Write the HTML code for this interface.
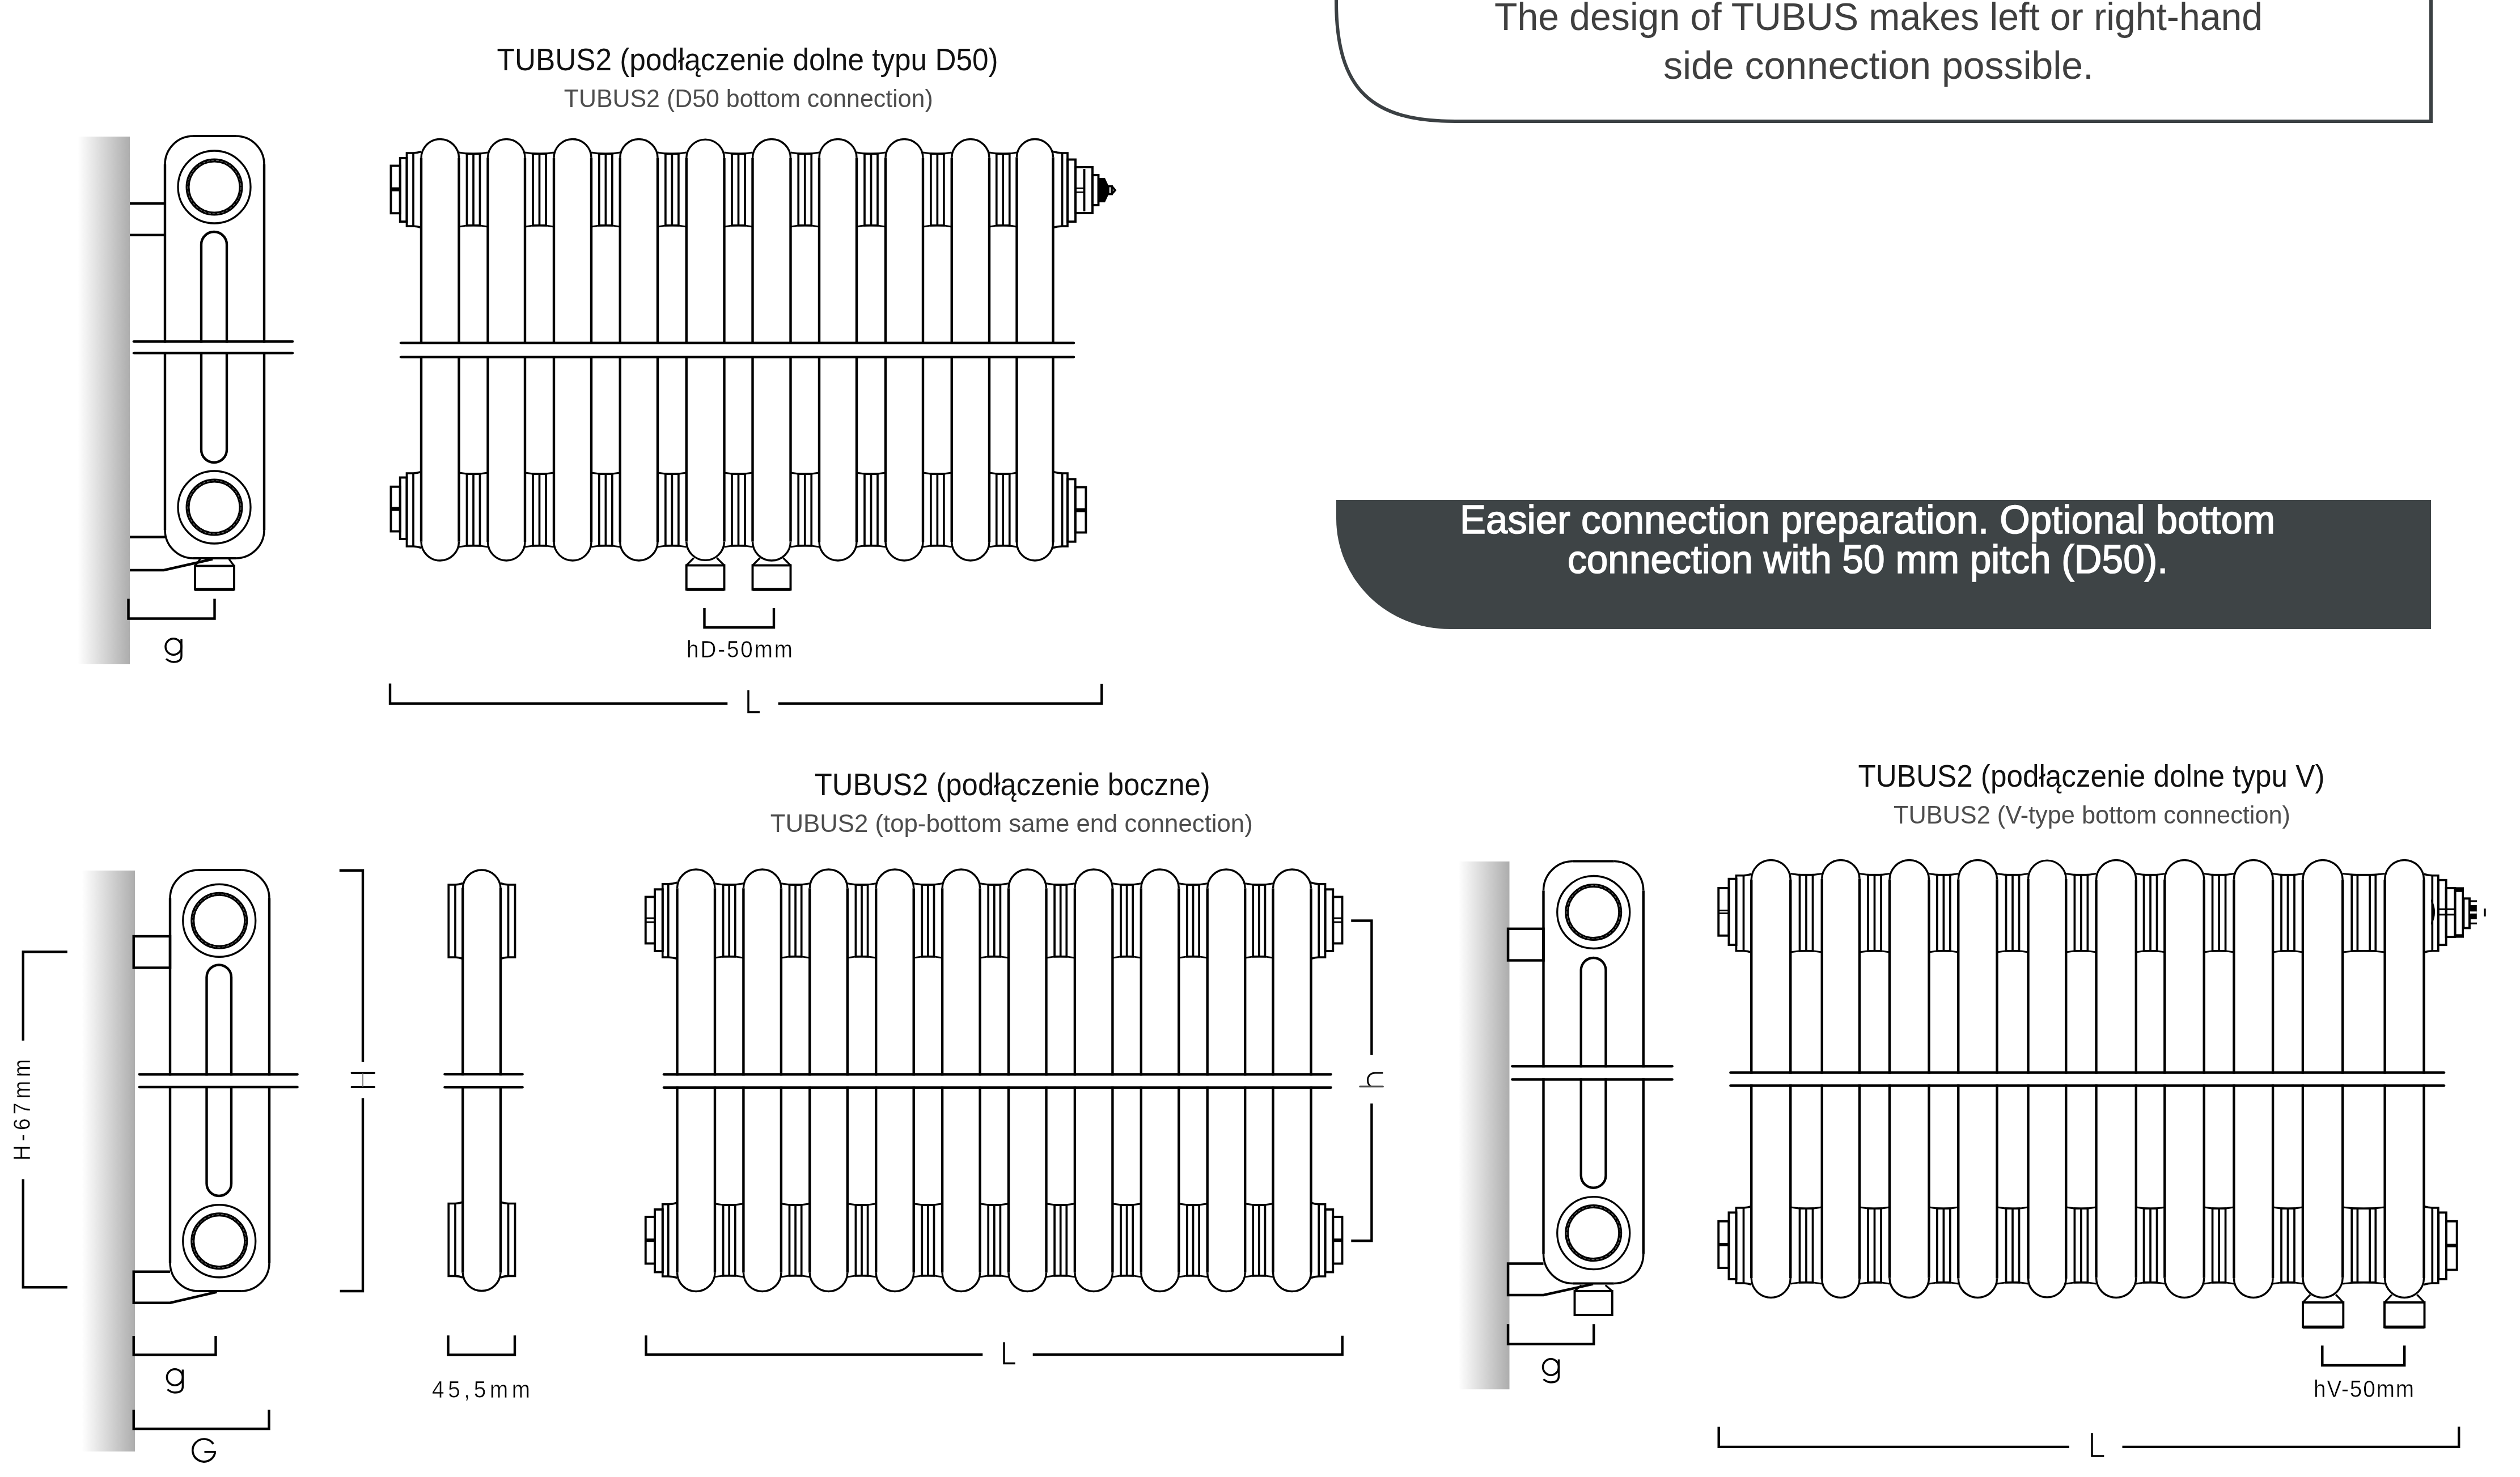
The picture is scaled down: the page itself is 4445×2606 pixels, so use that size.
<!DOCTYPE html>
<html><head><meta charset="utf-8"><title>TUBUS2</title><style>html,body{margin:0;padding:0;background:#fff;width:4445px;height:2606px;overflow:hidden}text{font-family:"Liberation Sans",sans-serif}</style></head><body>
<svg xmlns="http://www.w3.org/2000/svg" width="4445" height="2606" viewBox="0 0 4445 2606" style="display:block;filter:blur(0.6px)">
<defs><linearGradient id="wg" x1="0" y1="0" x2="1" y2="0"><stop offset="0" stop-color="#ffffff"/><stop offset="1" stop-color="#adadad"/></linearGradient></defs>
<rect x="0" y="0" width="4445" height="2606" fill="#fff"/>
<g font-family="Liberation Sans, sans-serif">
<path d="M2357 -20 L2357 2 C2357 160 2420 214 2567 214 L4288 214 L4288 -20" fill="none" stroke="#3b4043" stroke-width="6" stroke-linejoin="miter" stroke-linecap="butt"/>
<text x="2636" y="53" font-size="68" fill="#3f3f3f" text-anchor="start" textLength="1355" lengthAdjust="spacingAndGlyphs">The design of TUBUS makes left or right-hand</text>
<text x="2934" y="139" font-size="68" fill="#3f3f3f" text-anchor="start" textLength="759" lengthAdjust="spacingAndGlyphs">side connection possible.</text>
<path d="M2357 882 L4288 882 L4288 1110 L2557 1110 A200 195 0 0 1 2357 915 Z" fill="#3e4446"/>
<text x="2575" y="940.5" font-size="71" fill="#fff" text-anchor="start" textLength="1438" lengthAdjust="spacingAndGlyphs" stroke="#fff" stroke-width="1.6">Easier connection preparation. Optional bottom</text>
<text x="2765" y="1011" font-size="71" fill="#fff" text-anchor="start" textLength="1059" lengthAdjust="spacingAndGlyphs" stroke="#fff" stroke-width="1.6">connection with 50 mm pitch (D50).</text>
<text x="876.6" y="123.5" font-size="54.8" fill="#111" text-anchor="start" textLength="884" lengthAdjust="spacingAndGlyphs">TUBUS2 (podłączenie dolne typu D50)</text>
<text x="994.7" y="189" font-size="43.6" fill="#4d4d4d" text-anchor="start" textLength="651" lengthAdjust="spacingAndGlyphs">TUBUS2 (D50 bottom connection)</text>
<text x="1436.7" y="1402.7" font-size="54.8" fill="#111" text-anchor="start" textLength="698" lengthAdjust="spacingAndGlyphs">TUBUS2 (podłączenie boczne)</text>
<text x="1358.75" y="1468.3" font-size="43.6" fill="#4d4d4d" text-anchor="start" textLength="851" lengthAdjust="spacingAndGlyphs">TUBUS2 (top-bottom same end connection)</text>
<text x="3277.5" y="1388" font-size="54.8" fill="#111" text-anchor="start" textLength="823" lengthAdjust="spacingAndGlyphs">TUBUS2 (podłączenie dolne typu V)</text>
<text x="3340" y="1453" font-size="43.6" fill="#4d4d4d" text-anchor="start" textLength="700" lengthAdjust="spacingAndGlyphs">TUBUS2 (V-type bottom connection)</text>
<rect x="137" y="241" width="92" height="931" fill="url(#wg)"/>
<line x1="229" y1="359" x2="291" y2="359" stroke="#000" stroke-width="4.4" stroke-linecap="butt"/>
<line x1="229" y1="414.6" x2="291" y2="414.6" stroke="#000" stroke-width="4.4" stroke-linecap="butt"/>
<line x1="229" y1="947.5" x2="291" y2="947.5" stroke="#000" stroke-width="4.4" stroke-linecap="butt"/>
<path d="M229 1006 L289 1006 L375 986.5" fill="none" stroke="#000" stroke-width="4.4" stroke-linejoin="miter" stroke-linecap="butt"/>
<line x1="341" y1="240" x2="416" y2="240" stroke="#000" stroke-width="4.1" stroke-linecap="butt"/>
<line x1="341" y1="985" x2="416" y2="985" stroke="#000" stroke-width="4.1" stroke-linecap="butt"/>
<line x1="291" y1="290" x2="291" y2="935" stroke="#000" stroke-width="4.4" stroke-linecap="butt"/>
<line x1="466" y1="290" x2="466" y2="935" stroke="#000" stroke-width="4.4" stroke-linecap="butt"/>
<path d="M416 240 A50 50 0 0 1 466 290" fill="none" stroke="#000" stroke-width="3.5" stroke-linejoin="miter" stroke-linecap="butt"/>
<path d="M466 935 A50 50 0 0 1 416 985" fill="none" stroke="#000" stroke-width="3.5" stroke-linejoin="miter" stroke-linecap="butt"/>
<path d="M341 985 A50 50 0 0 1 291 935" fill="none" stroke="#000" stroke-width="3.5" stroke-linejoin="miter" stroke-linecap="butt"/>
<path d="M291 290 A50 50 0 0 1 341 240" fill="none" stroke="#000" stroke-width="3.5" stroke-linejoin="miter" stroke-linecap="butt"/>
<circle cx="378" cy="330" r="64" fill="none" stroke="#000" stroke-width="3.3"/>
<circle cx="378" cy="330" r="47" fill="none" stroke="#000" stroke-width="7"/>
<circle cx="378" cy="330" r="47" fill="none" stroke="#777" stroke-width="1.1" stroke-dasharray="5 3"/>
<circle cx="378" cy="895" r="64" fill="none" stroke="#000" stroke-width="3.3"/>
<circle cx="378" cy="895" r="47" fill="none" stroke="#000" stroke-width="7"/>
<circle cx="378" cy="895" r="47" fill="none" stroke="#777" stroke-width="1.1" stroke-dasharray="5 3"/>
<path d="M355 431.5 A22.5 22.5 0 0 1 400 431.5 L400 793.5 A22.5 22.5 0 0 1 355 793.5 Z" fill="none" stroke="#000" stroke-width="4.4" stroke-linejoin="miter" stroke-linecap="butt"/>
<rect x="236" y="604.5" width="280" height="16.5" fill="#fff"/>
<line x1="236" y1="602.5" x2="516" y2="602.5" stroke="#000" stroke-width="4.6" stroke-linecap="round"/>
<line x1="236" y1="623" x2="516" y2="623" stroke="#000" stroke-width="4.6" stroke-linecap="round"/>
<path d="M344 998.5 L353 986.5" fill="none" stroke="#000" stroke-width="3.2" stroke-linejoin="miter" stroke-linecap="butt"/>
<path d="M404 986.5 L413 998.5" fill="none" stroke="#000" stroke-width="3.2" stroke-linejoin="miter" stroke-linecap="butt"/>
<rect x="344" y="998.5" width="69" height="41.5" fill="none" stroke="#000" stroke-width="3.9"/>
<line x1="344" y1="1040" x2="413" y2="1040" stroke="#000" stroke-width="5.5" stroke-linecap="butt"/>
<path d="M226.5 1056.5 L226.5 1091.5 L378.5 1091.5 L378.5 1056.5" fill="none" stroke="#000" stroke-width="4.4" stroke-linejoin="miter" stroke-linecap="butt"/>
<ellipse cx="306" cy="1141" rx="14" ry="14.2" fill="none" stroke="#000" stroke-width="3.5"/>
<path d="M320 1127.5 L320 1157 C320 1165 314 1168 306 1168 C300 1168 296 1165 293 1162.5" fill="none" stroke="#000" stroke-width="3.5" stroke-linejoin="miter" stroke-linecap="butt"/>
<path d="M809.5 269 Q835 274 860.5 269" fill="none" stroke="#000" stroke-width="2.9" stroke-linejoin="miter" stroke-linecap="butt"/>
<path d="M809.5 400 Q835 395 860.5 400" fill="none" stroke="#000" stroke-width="2.9" stroke-linejoin="miter" stroke-linecap="butt"/>
<rect x="823.5" y="271.2" width="23" height="126.6" fill="none" stroke="#000" stroke-width="3.7"/>
<line x1="835" y1="271.2" x2="835" y2="397.8" stroke="#000" stroke-width="3.7" stroke-linecap="butt"/>
<path d="M809.5 834 Q835 839 860.5 834" fill="none" stroke="#000" stroke-width="2.9" stroke-linejoin="miter" stroke-linecap="butt"/>
<path d="M809.5 965 Q835 960 860.5 965" fill="none" stroke="#000" stroke-width="2.9" stroke-linejoin="miter" stroke-linecap="butt"/>
<rect x="823.5" y="836.2" width="23" height="126.6" fill="none" stroke="#000" stroke-width="3.7"/>
<line x1="835" y1="836.2" x2="835" y2="962.8" stroke="#000" stroke-width="3.7" stroke-linecap="butt"/>
<path d="M926 269 Q951.5 274 977 269" fill="none" stroke="#000" stroke-width="2.9" stroke-linejoin="miter" stroke-linecap="butt"/>
<path d="M926 400 Q951.5 395 977 400" fill="none" stroke="#000" stroke-width="2.9" stroke-linejoin="miter" stroke-linecap="butt"/>
<rect x="940" y="271.2" width="23" height="126.6" fill="none" stroke="#000" stroke-width="3.7"/>
<line x1="951.5" y1="271.2" x2="951.5" y2="397.8" stroke="#000" stroke-width="3.7" stroke-linecap="butt"/>
<path d="M926 834 Q951.5 839 977 834" fill="none" stroke="#000" stroke-width="2.9" stroke-linejoin="miter" stroke-linecap="butt"/>
<path d="M926 965 Q951.5 960 977 965" fill="none" stroke="#000" stroke-width="2.9" stroke-linejoin="miter" stroke-linecap="butt"/>
<rect x="940" y="836.2" width="23" height="126.6" fill="none" stroke="#000" stroke-width="3.7"/>
<line x1="951.5" y1="836.2" x2="951.5" y2="962.8" stroke="#000" stroke-width="3.7" stroke-linecap="butt"/>
<path d="M1043 269 Q1068.38 274 1093.75 269" fill="none" stroke="#000" stroke-width="2.9" stroke-linejoin="miter" stroke-linecap="butt"/>
<path d="M1043 400 Q1068.38 395 1093.75 400" fill="none" stroke="#000" stroke-width="2.9" stroke-linejoin="miter" stroke-linecap="butt"/>
<rect x="1056.88" y="271.2" width="23" height="126.6" fill="none" stroke="#000" stroke-width="3.7"/>
<line x1="1068.38" y1="271.2" x2="1068.38" y2="397.8" stroke="#000" stroke-width="3.7" stroke-linecap="butt"/>
<path d="M1043 834 Q1068.38 839 1093.75 834" fill="none" stroke="#000" stroke-width="2.9" stroke-linejoin="miter" stroke-linecap="butt"/>
<path d="M1043 965 Q1068.38 960 1093.75 965" fill="none" stroke="#000" stroke-width="2.9" stroke-linejoin="miter" stroke-linecap="butt"/>
<rect x="1056.88" y="836.2" width="23" height="126.6" fill="none" stroke="#000" stroke-width="3.7"/>
<line x1="1068.38" y1="836.2" x2="1068.38" y2="962.8" stroke="#000" stroke-width="3.7" stroke-linecap="butt"/>
<path d="M1160 269 Q1185.38 274 1210.75 269" fill="none" stroke="#000" stroke-width="2.9" stroke-linejoin="miter" stroke-linecap="butt"/>
<path d="M1160 400 Q1185.38 395 1210.75 400" fill="none" stroke="#000" stroke-width="2.9" stroke-linejoin="miter" stroke-linecap="butt"/>
<rect x="1173.88" y="271.2" width="23" height="126.6" fill="none" stroke="#000" stroke-width="3.7"/>
<line x1="1185.38" y1="271.2" x2="1185.38" y2="397.8" stroke="#000" stroke-width="3.7" stroke-linecap="butt"/>
<path d="M1160 834 Q1185.38 839 1210.75 834" fill="none" stroke="#000" stroke-width="2.9" stroke-linejoin="miter" stroke-linecap="butt"/>
<path d="M1160 965 Q1185.38 960 1210.75 965" fill="none" stroke="#000" stroke-width="2.9" stroke-linejoin="miter" stroke-linecap="butt"/>
<rect x="1173.88" y="836.2" width="23" height="126.6" fill="none" stroke="#000" stroke-width="3.7"/>
<line x1="1185.38" y1="836.2" x2="1185.38" y2="962.8" stroke="#000" stroke-width="3.7" stroke-linecap="butt"/>
<path d="M1277.5 269 Q1302.5 274 1327.5 269" fill="none" stroke="#000" stroke-width="2.9" stroke-linejoin="miter" stroke-linecap="butt"/>
<path d="M1277.5 400 Q1302.5 395 1327.5 400" fill="none" stroke="#000" stroke-width="2.9" stroke-linejoin="miter" stroke-linecap="butt"/>
<rect x="1291" y="271.2" width="23" height="126.6" fill="none" stroke="#000" stroke-width="3.7"/>
<line x1="1302.5" y1="271.2" x2="1302.5" y2="397.8" stroke="#000" stroke-width="3.7" stroke-linecap="butt"/>
<path d="M1277.5 834 Q1302.5 839 1327.5 834" fill="none" stroke="#000" stroke-width="2.9" stroke-linejoin="miter" stroke-linecap="butt"/>
<path d="M1277.5 965 Q1302.5 960 1327.5 965" fill="none" stroke="#000" stroke-width="2.9" stroke-linejoin="miter" stroke-linecap="butt"/>
<rect x="1291" y="836.2" width="23" height="126.6" fill="none" stroke="#000" stroke-width="3.7"/>
<line x1="1302.5" y1="836.2" x2="1302.5" y2="962.8" stroke="#000" stroke-width="3.7" stroke-linecap="butt"/>
<path d="M1394.5 269 Q1419.75 274 1445 269" fill="none" stroke="#000" stroke-width="2.9" stroke-linejoin="miter" stroke-linecap="butt"/>
<path d="M1394.5 400 Q1419.75 395 1445 400" fill="none" stroke="#000" stroke-width="2.9" stroke-linejoin="miter" stroke-linecap="butt"/>
<rect x="1408.25" y="271.2" width="23" height="126.6" fill="none" stroke="#000" stroke-width="3.7"/>
<line x1="1419.75" y1="271.2" x2="1419.75" y2="397.8" stroke="#000" stroke-width="3.7" stroke-linecap="butt"/>
<path d="M1394.5 834 Q1419.75 839 1445 834" fill="none" stroke="#000" stroke-width="2.9" stroke-linejoin="miter" stroke-linecap="butt"/>
<path d="M1394.5 965 Q1419.75 960 1445 965" fill="none" stroke="#000" stroke-width="2.9" stroke-linejoin="miter" stroke-linecap="butt"/>
<rect x="1408.25" y="836.2" width="23" height="126.6" fill="none" stroke="#000" stroke-width="3.7"/>
<line x1="1419.75" y1="836.2" x2="1419.75" y2="962.8" stroke="#000" stroke-width="3.7" stroke-linecap="butt"/>
<path d="M1511 269 Q1536.5 274 1562 269" fill="none" stroke="#000" stroke-width="2.9" stroke-linejoin="miter" stroke-linecap="butt"/>
<path d="M1511 400 Q1536.5 395 1562 400" fill="none" stroke="#000" stroke-width="2.9" stroke-linejoin="miter" stroke-linecap="butt"/>
<rect x="1525" y="271.2" width="23" height="126.6" fill="none" stroke="#000" stroke-width="3.7"/>
<line x1="1536.5" y1="271.2" x2="1536.5" y2="397.8" stroke="#000" stroke-width="3.7" stroke-linecap="butt"/>
<path d="M1511 834 Q1536.5 839 1562 834" fill="none" stroke="#000" stroke-width="2.9" stroke-linejoin="miter" stroke-linecap="butt"/>
<path d="M1511 965 Q1536.5 960 1562 965" fill="none" stroke="#000" stroke-width="2.9" stroke-linejoin="miter" stroke-linecap="butt"/>
<rect x="1525" y="836.2" width="23" height="126.6" fill="none" stroke="#000" stroke-width="3.7"/>
<line x1="1536.5" y1="836.2" x2="1536.5" y2="962.8" stroke="#000" stroke-width="3.7" stroke-linecap="butt"/>
<path d="M1628 269 Q1653.38 274 1678.75 269" fill="none" stroke="#000" stroke-width="2.9" stroke-linejoin="miter" stroke-linecap="butt"/>
<path d="M1628 400 Q1653.38 395 1678.75 400" fill="none" stroke="#000" stroke-width="2.9" stroke-linejoin="miter" stroke-linecap="butt"/>
<rect x="1641.88" y="271.2" width="23" height="126.6" fill="none" stroke="#000" stroke-width="3.7"/>
<line x1="1653.38" y1="271.2" x2="1653.38" y2="397.8" stroke="#000" stroke-width="3.7" stroke-linecap="butt"/>
<path d="M1628 834 Q1653.38 839 1678.75 834" fill="none" stroke="#000" stroke-width="2.9" stroke-linejoin="miter" stroke-linecap="butt"/>
<path d="M1628 965 Q1653.38 960 1678.75 965" fill="none" stroke="#000" stroke-width="2.9" stroke-linejoin="miter" stroke-linecap="butt"/>
<rect x="1641.88" y="836.2" width="23" height="126.6" fill="none" stroke="#000" stroke-width="3.7"/>
<line x1="1653.38" y1="836.2" x2="1653.38" y2="962.8" stroke="#000" stroke-width="3.7" stroke-linecap="butt"/>
<path d="M1745 269 Q1769.25 274 1793.5 269" fill="none" stroke="#000" stroke-width="2.9" stroke-linejoin="miter" stroke-linecap="butt"/>
<path d="M1745 400 Q1769.25 395 1793.5 400" fill="none" stroke="#000" stroke-width="2.9" stroke-linejoin="miter" stroke-linecap="butt"/>
<rect x="1757.75" y="271.2" width="23" height="126.6" fill="none" stroke="#000" stroke-width="3.7"/>
<line x1="1769.25" y1="271.2" x2="1769.25" y2="397.8" stroke="#000" stroke-width="3.7" stroke-linecap="butt"/>
<path d="M1745 834 Q1769.25 839 1793.5 834" fill="none" stroke="#000" stroke-width="2.9" stroke-linejoin="miter" stroke-linecap="butt"/>
<path d="M1745 965 Q1769.25 960 1793.5 965" fill="none" stroke="#000" stroke-width="2.9" stroke-linejoin="miter" stroke-linecap="butt"/>
<rect x="1757.75" y="836.2" width="23" height="126.6" fill="none" stroke="#000" stroke-width="3.7"/>
<line x1="1769.25" y1="836.2" x2="1769.25" y2="962.8" stroke="#000" stroke-width="3.7" stroke-linecap="butt"/>
<path d="M743 278.75 A33.25 33.25 0 0 1 809.5 278.75" fill="none" stroke="#000" stroke-width="3.4" stroke-linejoin="miter" stroke-linecap="butt"/>
<path d="M809.5 955.75 A33.25 33.25 0 0 1 743 955.75" fill="none" stroke="#000" stroke-width="3.4" stroke-linejoin="miter" stroke-linecap="butt"/>
<line x1="743" y1="278.75" x2="743" y2="955.75" stroke="#000" stroke-width="4.4" stroke-linecap="butt"/>
<line x1="809.5" y1="278.75" x2="809.5" y2="955.75" stroke="#000" stroke-width="4.4" stroke-linecap="butt"/>
<path d="M860.5 278.25 A32.75 32.75 0 0 1 926 278.25" fill="none" stroke="#000" stroke-width="3.4" stroke-linejoin="miter" stroke-linecap="butt"/>
<path d="M926 956.25 A32.75 32.75 0 0 1 860.5 956.25" fill="none" stroke="#000" stroke-width="3.4" stroke-linejoin="miter" stroke-linecap="butt"/>
<line x1="860.5" y1="278.25" x2="860.5" y2="956.25" stroke="#000" stroke-width="4.4" stroke-linecap="butt"/>
<line x1="926" y1="278.25" x2="926" y2="956.25" stroke="#000" stroke-width="4.4" stroke-linecap="butt"/>
<path d="M977 278.5 A33 33 0 0 1 1043 278.5" fill="none" stroke="#000" stroke-width="3.4" stroke-linejoin="miter" stroke-linecap="butt"/>
<path d="M1043 956 A33 33 0 0 1 977 956" fill="none" stroke="#000" stroke-width="3.4" stroke-linejoin="miter" stroke-linecap="butt"/>
<line x1="977" y1="278.5" x2="977" y2="956" stroke="#000" stroke-width="4.4" stroke-linecap="butt"/>
<line x1="1043" y1="278.5" x2="1043" y2="956" stroke="#000" stroke-width="4.4" stroke-linecap="butt"/>
<path d="M1093.75 278.62 A33.12 33.12 0 0 1 1160 278.62" fill="none" stroke="#000" stroke-width="3.4" stroke-linejoin="miter" stroke-linecap="butt"/>
<path d="M1160 955.88 A33.12 33.12 0 0 1 1093.75 955.88" fill="none" stroke="#000" stroke-width="3.4" stroke-linejoin="miter" stroke-linecap="butt"/>
<line x1="1093.75" y1="278.62" x2="1093.75" y2="955.88" stroke="#000" stroke-width="4.4" stroke-linecap="butt"/>
<line x1="1160" y1="278.62" x2="1160" y2="955.88" stroke="#000" stroke-width="4.4" stroke-linecap="butt"/>
<path d="M1210.75 278.88 A33.38 33.38 0 0 1 1277.5 278.88" fill="none" stroke="#000" stroke-width="3.4" stroke-linejoin="miter" stroke-linecap="butt"/>
<path d="M1277.5 955.62 A33.38 33.38 0 0 1 1210.75 955.62" fill="none" stroke="#000" stroke-width="3.4" stroke-linejoin="miter" stroke-linecap="butt"/>
<line x1="1210.75" y1="278.88" x2="1210.75" y2="955.62" stroke="#000" stroke-width="4.4" stroke-linecap="butt"/>
<line x1="1277.5" y1="278.88" x2="1277.5" y2="955.62" stroke="#000" stroke-width="4.4" stroke-linecap="butt"/>
<path d="M1327.5 279 A33.5 33.5 0 0 1 1394.5 279" fill="none" stroke="#000" stroke-width="3.4" stroke-linejoin="miter" stroke-linecap="butt"/>
<path d="M1394.5 955.5 A33.5 33.5 0 0 1 1327.5 955.5" fill="none" stroke="#000" stroke-width="3.4" stroke-linejoin="miter" stroke-linecap="butt"/>
<line x1="1327.5" y1="279" x2="1327.5" y2="955.5" stroke="#000" stroke-width="4.4" stroke-linecap="butt"/>
<line x1="1394.5" y1="279" x2="1394.5" y2="955.5" stroke="#000" stroke-width="4.4" stroke-linecap="butt"/>
<path d="M1445 278.5 A33 33 0 0 1 1511 278.5" fill="none" stroke="#000" stroke-width="3.4" stroke-linejoin="miter" stroke-linecap="butt"/>
<path d="M1511 956 A33 33 0 0 1 1445 956" fill="none" stroke="#000" stroke-width="3.4" stroke-linejoin="miter" stroke-linecap="butt"/>
<line x1="1445" y1="278.5" x2="1445" y2="956" stroke="#000" stroke-width="4.4" stroke-linecap="butt"/>
<line x1="1511" y1="278.5" x2="1511" y2="956" stroke="#000" stroke-width="4.4" stroke-linecap="butt"/>
<path d="M1562 278.5 A33 33 0 0 1 1628 278.5" fill="none" stroke="#000" stroke-width="3.4" stroke-linejoin="miter" stroke-linecap="butt"/>
<path d="M1628 956 A33 33 0 0 1 1562 956" fill="none" stroke="#000" stroke-width="3.4" stroke-linejoin="miter" stroke-linecap="butt"/>
<line x1="1562" y1="278.5" x2="1562" y2="956" stroke="#000" stroke-width="4.4" stroke-linecap="butt"/>
<line x1="1628" y1="278.5" x2="1628" y2="956" stroke="#000" stroke-width="4.4" stroke-linecap="butt"/>
<path d="M1678.75 278.62 A33.12 33.12 0 0 1 1745 278.62" fill="none" stroke="#000" stroke-width="3.4" stroke-linejoin="miter" stroke-linecap="butt"/>
<path d="M1745 955.88 A33.12 33.12 0 0 1 1678.75 955.88" fill="none" stroke="#000" stroke-width="3.4" stroke-linejoin="miter" stroke-linecap="butt"/>
<line x1="1678.75" y1="278.62" x2="1678.75" y2="955.88" stroke="#000" stroke-width="4.4" stroke-linecap="butt"/>
<line x1="1745" y1="278.62" x2="1745" y2="955.88" stroke="#000" stroke-width="4.4" stroke-linecap="butt"/>
<path d="M1793.5 277.5 A32 32 0 0 1 1857.5 277.5" fill="none" stroke="#000" stroke-width="3.4" stroke-linejoin="miter" stroke-linecap="butt"/>
<path d="M1857.5 957 A32 32 0 0 1 1793.5 957" fill="none" stroke="#000" stroke-width="3.4" stroke-linejoin="miter" stroke-linecap="butt"/>
<line x1="1793.5" y1="277.5" x2="1793.5" y2="957" stroke="#000" stroke-width="4.4" stroke-linecap="butt"/>
<line x1="1857.5" y1="277.5" x2="1857.5" y2="957" stroke="#000" stroke-width="4.4" stroke-linecap="butt"/>
<rect x="707" y="607" width="1187" height="21" fill="#fff"/>
<line x1="707" y1="605" x2="1894" y2="605" stroke="#000" stroke-width="4.6" stroke-linecap="round"/>
<line x1="707" y1="630" x2="1894" y2="630" stroke="#000" stroke-width="4.6" stroke-linecap="round"/>
<path d="M743 267.5 Q736 269.8 729 270 L717.5 270 L717.5 399 L729 399 Q736 399.2 743 401.5" fill="none" stroke="#000" stroke-width="3.7" stroke-linejoin="miter" stroke-linecap="butt"/>
<line x1="729" y1="270" x2="729" y2="399" stroke="#000" stroke-width="3.7" stroke-linecap="butt"/>
<rect x="705.75" y="279" width="11.75" height="112" fill="none" stroke="#000" stroke-width="3.9"/>
<rect x="689.5" y="292.5" width="16.25" height="83.75" fill="none" stroke="#000" stroke-width="3.9"/>
<line x1="689.5" y1="334" x2="705.75" y2="334" stroke="#000" stroke-width="7" stroke-linecap="butt"/>
<path d="M743 832.5 Q736 834.8 729 835 L717.5 835 L717.5 964 L729 964 Q736 964.2 743 966.5" fill="none" stroke="#000" stroke-width="3.7" stroke-linejoin="miter" stroke-linecap="butt"/>
<line x1="729" y1="835" x2="729" y2="964" stroke="#000" stroke-width="3.7" stroke-linecap="butt"/>
<rect x="705.75" y="842.5" width="11.75" height="108.5" fill="none" stroke="#000" stroke-width="3.9"/>
<rect x="689.5" y="858.75" width="16.25" height="78.75" fill="none" stroke="#000" stroke-width="3.9"/>
<line x1="689.5" y1="898" x2="705.75" y2="898" stroke="#000" stroke-width="7" stroke-linecap="butt"/>
<path d="M1857.5 267.5 Q1865.55 269.8 1873.6 270 L1883 270 L1883 399 L1873.6 399 Q1865.55 399.2 1857.5 401.5" fill="none" stroke="#000" stroke-width="3.7" stroke-linejoin="miter" stroke-linecap="butt"/>
<line x1="1873.6" y1="270" x2="1873.6" y2="399" stroke="#000" stroke-width="3.7" stroke-linecap="butt"/>
<path d="M1857.5 832.5 Q1865.55 834.8 1873.6 835 L1883 835 L1883 964 L1873.6 964 Q1865.55 964.2 1857.5 966.5" fill="none" stroke="#000" stroke-width="3.7" stroke-linejoin="miter" stroke-linecap="butt"/>
<line x1="1873.6" y1="835" x2="1873.6" y2="964" stroke="#000" stroke-width="3.7" stroke-linecap="butt"/>
<rect x="1883" y="281.5" width="14" height="109.5" fill="none" stroke="#000" stroke-width="3.9"/>
<rect x="1897" y="295" width="30" height="81" fill="none" stroke="#000" stroke-width="3.9"/>
<line x1="1912.5" y1="298" x2="1912.5" y2="373" stroke="#000" stroke-width="3.9" stroke-linecap="butt"/>
<line x1="1897" y1="332" x2="1912.5" y2="332" stroke="#000" stroke-width="2.5" stroke-linecap="butt"/>
<line x1="1897" y1="339" x2="1912.5" y2="339" stroke="#000" stroke-width="2.5" stroke-linecap="butt"/>
<rect x="1927" y="309" width="10.5" height="53" fill="none" stroke="#000" stroke-width="3.9"/>
<path d="M1936 314 L1949 314 L1955 327 L1955 344 L1949 357 L1936 357 Z" fill="#000"/>
<rect x="1955" y="328.5" width="6" height="14" fill="none" stroke="#000" stroke-width="3.7"/>
<path d="M1961 328.5 L1967 335.5 L1961 342.5" fill="none" stroke="#000" stroke-width="3.7" stroke-linejoin="miter" stroke-linecap="butt"/>
<rect x="1883" y="845.4" width="13.7" height="110.3" fill="none" stroke="#000" stroke-width="3.9"/>
<rect x="1896.7" y="859.6" width="18.7" height="79.9" fill="none" stroke="#000" stroke-width="3.9"/>
<line x1="1896.7" y1="900.2" x2="1915.4" y2="900.2" stroke="#000" stroke-width="7" stroke-linecap="butt"/>
<path d="M1210.75 997.5 L1223.75 984.5" fill="none" stroke="#000" stroke-width="3.2" stroke-linejoin="miter" stroke-linecap="butt"/>
<path d="M1264.5 984.5 L1277.5 997.5" fill="none" stroke="#000" stroke-width="3.2" stroke-linejoin="miter" stroke-linecap="butt"/>
<rect x="1210.75" y="997.5" width="66.75" height="42.5" fill="none" stroke="#000" stroke-width="3.9"/>
<line x1="1210.75" y1="1040" x2="1277.5" y2="1040" stroke="#000" stroke-width="5.5" stroke-linecap="butt"/>
<path d="M1327.5 997.5 L1340.5 984.5" fill="none" stroke="#000" stroke-width="3.2" stroke-linejoin="miter" stroke-linecap="butt"/>
<path d="M1381.5 984.5 L1394.5 997.5" fill="none" stroke="#000" stroke-width="3.2" stroke-linejoin="miter" stroke-linecap="butt"/>
<rect x="1327.5" y="997.5" width="67" height="42.5" fill="none" stroke="#000" stroke-width="3.9"/>
<line x1="1327.5" y1="1040" x2="1394.5" y2="1040" stroke="#000" stroke-width="5.5" stroke-linecap="butt"/>
<path d="M1242.5 1073 L1242.5 1107 L1365 1107 L1365 1073" fill="none" stroke="#000" stroke-width="4.4" stroke-linejoin="miter" stroke-linecap="butt"/>
<text x="0" y="0" font-size="42" fill="#000" textLength="203.26" lengthAdjust="spacing" stroke="#fff" stroke-width="0.45" transform="translate(1211 1160) scale(0.92 1)">hD-50mm</text>
<path d="M688 1206 L688 1241.5 L1283.3 1241.5" fill="none" stroke="#000" stroke-width="4.4" stroke-linejoin="miter" stroke-linecap="butt"/>
<path d="M1372.7 1241.5 L1943.3 1241.5 L1943.3 1206.7" fill="none" stroke="#000" stroke-width="4.4" stroke-linejoin="miter" stroke-linecap="butt"/>
<path d="M1320 1218 L1320 1256.5 L1340 1256.5" fill="none" stroke="#000" stroke-width="3.5" stroke-linejoin="miter" stroke-linecap="butt"/>
<rect x="145" y="1536" width="93" height="1025" fill="url(#wg)"/>
<rect x="235.75" y="1652" width="64.25" height="55.5" fill="none" stroke="#000" stroke-width="4.4"/>
<path d="M300 2243.75 L235.75 2243.75 L235.75 2298.75 L300 2298.75 L382.5 2279.5" fill="none" stroke="#000" stroke-width="4.4" stroke-linejoin="miter" stroke-linecap="butt"/>
<line x1="350" y1="1535" x2="425" y2="1535" stroke="#000" stroke-width="4.1" stroke-linecap="butt"/>
<line x1="350" y1="2278" x2="425" y2="2278" stroke="#000" stroke-width="4.1" stroke-linecap="butt"/>
<line x1="300" y1="1585" x2="300" y2="2228" stroke="#000" stroke-width="4.4" stroke-linecap="butt"/>
<line x1="475" y1="1585" x2="475" y2="2228" stroke="#000" stroke-width="4.4" stroke-linecap="butt"/>
<path d="M425 1535 A50 50 0 0 1 475 1585" fill="none" stroke="#000" stroke-width="3.5" stroke-linejoin="miter" stroke-linecap="butt"/>
<path d="M475 2228 A50 50 0 0 1 425 2278" fill="none" stroke="#000" stroke-width="3.5" stroke-linejoin="miter" stroke-linecap="butt"/>
<path d="M350 2278 A50 50 0 0 1 300 2228" fill="none" stroke="#000" stroke-width="3.5" stroke-linejoin="miter" stroke-linecap="butt"/>
<path d="M300 1585 A50 50 0 0 1 350 1535" fill="none" stroke="#000" stroke-width="3.5" stroke-linejoin="miter" stroke-linecap="butt"/>
<circle cx="386.75" cy="1624.25" r="64" fill="none" stroke="#000" stroke-width="3.3"/>
<circle cx="386.75" cy="1624.25" r="47" fill="none" stroke="#000" stroke-width="7"/>
<circle cx="386.75" cy="1624.25" r="47" fill="none" stroke="#777" stroke-width="1.1" stroke-dasharray="5 3"/>
<circle cx="386.75" cy="2189.75" r="64" fill="none" stroke="#000" stroke-width="3.3"/>
<circle cx="386.75" cy="2189.75" r="47" fill="none" stroke="#000" stroke-width="7"/>
<circle cx="386.75" cy="2189.75" r="47" fill="none" stroke="#777" stroke-width="1.1" stroke-dasharray="5 3"/>
<path d="M364.5 1724.25 A21.75 21.75 0 0 1 408 1724.25 L408 2088.25 A21.75 21.75 0 0 1 364.5 2088.25 Z" fill="none" stroke="#000" stroke-width="4.4" stroke-linejoin="miter" stroke-linecap="butt"/>
<rect x="246" y="1897.5" width="278.5" height="18.5" fill="#fff"/>
<line x1="246" y1="1895.5" x2="524.5" y2="1895.5" stroke="#000" stroke-width="4.6" stroke-linecap="round"/>
<line x1="246" y1="1918" x2="524.5" y2="1918" stroke="#000" stroke-width="4.6" stroke-linecap="round"/>
<path d="M118.75 1679.5 L40.75 1679.5 L40.75 1836" fill="none" stroke="#000" stroke-width="4.4" stroke-linejoin="miter" stroke-linecap="butt"/>
<path d="M40.75 2080.5 L40.75 2271.25 L118.75 2271.25" fill="none" stroke="#000" stroke-width="4.4" stroke-linejoin="miter" stroke-linecap="butt"/>
<text x="0" y="0" font-size="42" fill="#000" textLength="198.89" lengthAdjust="spacing" stroke="#fff" stroke-width="0.45" transform="translate(52.5 2047.8) rotate(-90) scale(0.9 1)">H-67mm</text>
<path d="M235.75 2357 L235.75 2390.5 L380.5 2390.5 L380.5 2357" fill="none" stroke="#000" stroke-width="4.4" stroke-linejoin="miter" stroke-linecap="butt"/>
<ellipse cx="308.4" cy="2430" rx="14" ry="14.2" fill="none" stroke="#000" stroke-width="3.5"/>
<path d="M322.4 2416.5 L322.4 2446 C322.4 2454 316.4 2457 308.4 2457 C302.4 2457 298.4 2454 295.4 2451.5" fill="none" stroke="#000" stroke-width="3.5" stroke-linejoin="miter" stroke-linecap="butt"/>
<path d="M235.75 2487.5 L235.75 2521 L474.5 2521 L474.5 2487.5" fill="none" stroke="#000" stroke-width="4.4" stroke-linejoin="miter" stroke-linecap="butt"/>
<path d="M376.3 2547.7 A20 20 0 1 0 379 2564.5 L379 2561.8 L360.5 2561.8" fill="none" stroke="#000" stroke-width="3.6" stroke-linejoin="miter" stroke-linecap="butt"/>
<path d="M598.75 1535.75 L640 1535.75 L640 1873.75" fill="none" stroke="#000" stroke-width="4.4" stroke-linejoin="miter" stroke-linecap="butt"/>
<path d="M640 1937.5 L640 2278 L599.6 2278" fill="none" stroke="#000" stroke-width="4.4" stroke-linejoin="miter" stroke-linecap="butt"/>
<line x1="620.6" y1="1893" x2="660" y2="1893" stroke="#000" stroke-width="4.1" stroke-linecap="round"/>
<line x1="620.6" y1="1918" x2="660" y2="1918" stroke="#000" stroke-width="4.1" stroke-linecap="round"/>
<line x1="640" y1="1893" x2="640" y2="1918" stroke="#666" stroke-width="1.6" stroke-linecap="butt"/>
<path d="M816.25 1558.5 Q809.62 1560.8 803 1561 L791.25 1561 L791.25 1689 L803 1689 Q809.62 1689.2 816.25 1691.5" fill="none" stroke="#000" stroke-width="3.7" stroke-linejoin="miter" stroke-linecap="butt"/>
<line x1="803" y1="1561" x2="803" y2="1689" stroke="#000" stroke-width="3.7" stroke-linecap="butt"/>
<path d="M883 1558.5 Q889.75 1560.8 896.5 1561 L908.5 1561 L908.5 1689 L896.5 1689 Q889.75 1689.2 883 1691.5" fill="none" stroke="#000" stroke-width="3.7" stroke-linejoin="miter" stroke-linecap="butt"/>
<line x1="896.5" y1="1561" x2="896.5" y2="1689" stroke="#000" stroke-width="3.7" stroke-linecap="butt"/>
<path d="M816.25 2121 Q809.62 2123.3 803 2123.5 L791.25 2123.5 L791.25 2251.4 L803 2251.4 Q809.62 2251.6 816.25 2253.9" fill="none" stroke="#000" stroke-width="3.7" stroke-linejoin="miter" stroke-linecap="butt"/>
<line x1="803" y1="2123.5" x2="803" y2="2251.4" stroke="#000" stroke-width="3.7" stroke-linecap="butt"/>
<path d="M883 2121 Q889.75 2123.3 896.5 2123.5 L908.5 2123.5 L908.5 2251.4 L896.5 2251.4 Q889.75 2251.6 883 2253.9" fill="none" stroke="#000" stroke-width="3.7" stroke-linejoin="miter" stroke-linecap="butt"/>
<line x1="896.5" y1="2123.5" x2="896.5" y2="2251.4" stroke="#000" stroke-width="3.7" stroke-linecap="butt"/>
<path d="M816.25 1567.1 A33.4 33.4 0 0 1 883 1567.1" fill="none" stroke="#000" stroke-width="3.4" stroke-linejoin="miter" stroke-linecap="butt"/>
<path d="M883 2245.4 A33.4 33.4 0 0 1 816.25 2245.4" fill="none" stroke="#000" stroke-width="3.4" stroke-linejoin="miter" stroke-linecap="butt"/>
<line x1="816.25" y1="1567.1" x2="816.25" y2="2245.4" stroke="#000" stroke-width="4.4" stroke-linecap="butt"/>
<line x1="883" y1="1567.1" x2="883" y2="2245.4" stroke="#000" stroke-width="4.4" stroke-linecap="butt"/>
<rect x="784.6" y="1897.3" width="136.9" height="19" fill="#fff"/>
<line x1="784.6" y1="1895.3" x2="921.5" y2="1895.3" stroke="#000" stroke-width="4.6" stroke-linecap="round"/>
<line x1="784.6" y1="1918.3" x2="921.5" y2="1918.3" stroke="#000" stroke-width="4.6" stroke-linecap="round"/>
<path d="M790.5 2356.25 L790.5 2390.5 L908 2390.5 L908 2356.25" fill="none" stroke="#000" stroke-width="4.4" stroke-linejoin="miter" stroke-linecap="butt"/>
<text x="0" y="0" font-size="42" fill="#000" textLength="188.04" lengthAdjust="spacing" stroke="#fff" stroke-width="0.45" transform="translate(762 2466.25) scale(0.92 1)">45,5mm</text>
<path d="M1261 1558.75 Q1286.2 1563.75 1311.4 1558.75" fill="none" stroke="#000" stroke-width="2.9" stroke-linejoin="miter" stroke-linecap="butt"/>
<path d="M1261 1690 Q1286.2 1685 1311.4 1690" fill="none" stroke="#000" stroke-width="2.9" stroke-linejoin="miter" stroke-linecap="butt"/>
<rect x="1275.6" y="1560.95" width="21.2" height="126.85" fill="none" stroke="#000" stroke-width="3.7"/>
<line x1="1286.2" y1="1560.95" x2="1286.2" y2="1687.8" stroke="#000" stroke-width="3.7" stroke-linecap="butt"/>
<path d="M1261 2123.75 Q1286.2 2128.75 1311.4 2123.75" fill="none" stroke="#000" stroke-width="2.9" stroke-linejoin="miter" stroke-linecap="butt"/>
<path d="M1261 2253 Q1286.2 2248 1311.4 2253" fill="none" stroke="#000" stroke-width="2.9" stroke-linejoin="miter" stroke-linecap="butt"/>
<rect x="1275.6" y="2125.95" width="21.2" height="124.85" fill="none" stroke="#000" stroke-width="3.7"/>
<line x1="1286.2" y1="2125.95" x2="1286.2" y2="2250.8" stroke="#000" stroke-width="3.7" stroke-linecap="butt"/>
<path d="M1377.9 1558.75 Q1403.1 1563.75 1428.3 1558.75" fill="none" stroke="#000" stroke-width="2.9" stroke-linejoin="miter" stroke-linecap="butt"/>
<path d="M1377.9 1690 Q1403.1 1685 1428.3 1690" fill="none" stroke="#000" stroke-width="2.9" stroke-linejoin="miter" stroke-linecap="butt"/>
<rect x="1392.5" y="1560.95" width="21.2" height="126.85" fill="none" stroke="#000" stroke-width="3.7"/>
<line x1="1403.1" y1="1560.95" x2="1403.1" y2="1687.8" stroke="#000" stroke-width="3.7" stroke-linecap="butt"/>
<path d="M1377.9 2123.75 Q1403.1 2128.75 1428.3 2123.75" fill="none" stroke="#000" stroke-width="2.9" stroke-linejoin="miter" stroke-linecap="butt"/>
<path d="M1377.9 2253 Q1403.1 2248 1428.3 2253" fill="none" stroke="#000" stroke-width="2.9" stroke-linejoin="miter" stroke-linecap="butt"/>
<rect x="1392.5" y="2125.95" width="21.2" height="124.85" fill="none" stroke="#000" stroke-width="3.7"/>
<line x1="1403.1" y1="2125.95" x2="1403.1" y2="2250.8" stroke="#000" stroke-width="3.7" stroke-linecap="butt"/>
<path d="M1494.8 1558.75 Q1520 1563.75 1545.2 1558.75" fill="none" stroke="#000" stroke-width="2.9" stroke-linejoin="miter" stroke-linecap="butt"/>
<path d="M1494.8 1690 Q1520 1685 1545.2 1690" fill="none" stroke="#000" stroke-width="2.9" stroke-linejoin="miter" stroke-linecap="butt"/>
<rect x="1509.4" y="1560.95" width="21.2" height="126.85" fill="none" stroke="#000" stroke-width="3.7"/>
<line x1="1520" y1="1560.95" x2="1520" y2="1687.8" stroke="#000" stroke-width="3.7" stroke-linecap="butt"/>
<path d="M1494.8 2123.75 Q1520 2128.75 1545.2 2123.75" fill="none" stroke="#000" stroke-width="2.9" stroke-linejoin="miter" stroke-linecap="butt"/>
<path d="M1494.8 2253 Q1520 2248 1545.2 2253" fill="none" stroke="#000" stroke-width="2.9" stroke-linejoin="miter" stroke-linecap="butt"/>
<rect x="1509.4" y="2125.95" width="21.2" height="124.85" fill="none" stroke="#000" stroke-width="3.7"/>
<line x1="1520" y1="2125.95" x2="1520" y2="2250.8" stroke="#000" stroke-width="3.7" stroke-linecap="butt"/>
<path d="M1611.7 1558.75 Q1636.9 1563.75 1662.1 1558.75" fill="none" stroke="#000" stroke-width="2.9" stroke-linejoin="miter" stroke-linecap="butt"/>
<path d="M1611.7 1690 Q1636.9 1685 1662.1 1690" fill="none" stroke="#000" stroke-width="2.9" stroke-linejoin="miter" stroke-linecap="butt"/>
<rect x="1626.3" y="1560.95" width="21.2" height="126.85" fill="none" stroke="#000" stroke-width="3.7"/>
<line x1="1636.9" y1="1560.95" x2="1636.9" y2="1687.8" stroke="#000" stroke-width="3.7" stroke-linecap="butt"/>
<path d="M1611.7 2123.75 Q1636.9 2128.75 1662.1 2123.75" fill="none" stroke="#000" stroke-width="2.9" stroke-linejoin="miter" stroke-linecap="butt"/>
<path d="M1611.7 2253 Q1636.9 2248 1662.1 2253" fill="none" stroke="#000" stroke-width="2.9" stroke-linejoin="miter" stroke-linecap="butt"/>
<rect x="1626.3" y="2125.95" width="21.2" height="124.85" fill="none" stroke="#000" stroke-width="3.7"/>
<line x1="1636.9" y1="2125.95" x2="1636.9" y2="2250.8" stroke="#000" stroke-width="3.7" stroke-linecap="butt"/>
<path d="M1728.6 1558.75 Q1753.8 1563.75 1779 1558.75" fill="none" stroke="#000" stroke-width="2.9" stroke-linejoin="miter" stroke-linecap="butt"/>
<path d="M1728.6 1690 Q1753.8 1685 1779 1690" fill="none" stroke="#000" stroke-width="2.9" stroke-linejoin="miter" stroke-linecap="butt"/>
<rect x="1743.2" y="1560.95" width="21.2" height="126.85" fill="none" stroke="#000" stroke-width="3.7"/>
<line x1="1753.8" y1="1560.95" x2="1753.8" y2="1687.8" stroke="#000" stroke-width="3.7" stroke-linecap="butt"/>
<path d="M1728.6 2123.75 Q1753.8 2128.75 1779 2123.75" fill="none" stroke="#000" stroke-width="2.9" stroke-linejoin="miter" stroke-linecap="butt"/>
<path d="M1728.6 2253 Q1753.8 2248 1779 2253" fill="none" stroke="#000" stroke-width="2.9" stroke-linejoin="miter" stroke-linecap="butt"/>
<rect x="1743.2" y="2125.95" width="21.2" height="124.85" fill="none" stroke="#000" stroke-width="3.7"/>
<line x1="1753.8" y1="2125.95" x2="1753.8" y2="2250.8" stroke="#000" stroke-width="3.7" stroke-linecap="butt"/>
<path d="M1845.5 1558.75 Q1870.7 1563.75 1895.9 1558.75" fill="none" stroke="#000" stroke-width="2.9" stroke-linejoin="miter" stroke-linecap="butt"/>
<path d="M1845.5 1690 Q1870.7 1685 1895.9 1690" fill="none" stroke="#000" stroke-width="2.9" stroke-linejoin="miter" stroke-linecap="butt"/>
<rect x="1860.1" y="1560.95" width="21.2" height="126.85" fill="none" stroke="#000" stroke-width="3.7"/>
<line x1="1870.7" y1="1560.95" x2="1870.7" y2="1687.8" stroke="#000" stroke-width="3.7" stroke-linecap="butt"/>
<path d="M1845.5 2123.75 Q1870.7 2128.75 1895.9 2123.75" fill="none" stroke="#000" stroke-width="2.9" stroke-linejoin="miter" stroke-linecap="butt"/>
<path d="M1845.5 2253 Q1870.7 2248 1895.9 2253" fill="none" stroke="#000" stroke-width="2.9" stroke-linejoin="miter" stroke-linecap="butt"/>
<rect x="1860.1" y="2125.95" width="21.2" height="124.85" fill="none" stroke="#000" stroke-width="3.7"/>
<line x1="1870.7" y1="2125.95" x2="1870.7" y2="2250.8" stroke="#000" stroke-width="3.7" stroke-linecap="butt"/>
<path d="M1962.4 1558.75 Q1987.6 1563.75 2012.8 1558.75" fill="none" stroke="#000" stroke-width="2.9" stroke-linejoin="miter" stroke-linecap="butt"/>
<path d="M1962.4 1690 Q1987.6 1685 2012.8 1690" fill="none" stroke="#000" stroke-width="2.9" stroke-linejoin="miter" stroke-linecap="butt"/>
<rect x="1977" y="1560.95" width="21.2" height="126.85" fill="none" stroke="#000" stroke-width="3.7"/>
<line x1="1987.6" y1="1560.95" x2="1987.6" y2="1687.8" stroke="#000" stroke-width="3.7" stroke-linecap="butt"/>
<path d="M1962.4 2123.75 Q1987.6 2128.75 2012.8 2123.75" fill="none" stroke="#000" stroke-width="2.9" stroke-linejoin="miter" stroke-linecap="butt"/>
<path d="M1962.4 2253 Q1987.6 2248 2012.8 2253" fill="none" stroke="#000" stroke-width="2.9" stroke-linejoin="miter" stroke-linecap="butt"/>
<rect x="1977" y="2125.95" width="21.2" height="124.85" fill="none" stroke="#000" stroke-width="3.7"/>
<line x1="1987.6" y1="2125.95" x2="1987.6" y2="2250.8" stroke="#000" stroke-width="3.7" stroke-linecap="butt"/>
<path d="M2079.3 1558.75 Q2104.5 1563.75 2129.7 1558.75" fill="none" stroke="#000" stroke-width="2.9" stroke-linejoin="miter" stroke-linecap="butt"/>
<path d="M2079.3 1690 Q2104.5 1685 2129.7 1690" fill="none" stroke="#000" stroke-width="2.9" stroke-linejoin="miter" stroke-linecap="butt"/>
<rect x="2093.9" y="1560.95" width="21.2" height="126.85" fill="none" stroke="#000" stroke-width="3.7"/>
<line x1="2104.5" y1="1560.95" x2="2104.5" y2="1687.8" stroke="#000" stroke-width="3.7" stroke-linecap="butt"/>
<path d="M2079.3 2123.75 Q2104.5 2128.75 2129.7 2123.75" fill="none" stroke="#000" stroke-width="2.9" stroke-linejoin="miter" stroke-linecap="butt"/>
<path d="M2079.3 2253 Q2104.5 2248 2129.7 2253" fill="none" stroke="#000" stroke-width="2.9" stroke-linejoin="miter" stroke-linecap="butt"/>
<rect x="2093.9" y="2125.95" width="21.2" height="124.85" fill="none" stroke="#000" stroke-width="3.7"/>
<line x1="2104.5" y1="2125.95" x2="2104.5" y2="2250.8" stroke="#000" stroke-width="3.7" stroke-linecap="butt"/>
<path d="M2196.2 1558.75 Q2220.85 1563.75 2245.5 1558.75" fill="none" stroke="#000" stroke-width="2.9" stroke-linejoin="miter" stroke-linecap="butt"/>
<path d="M2196.2 1690 Q2220.85 1685 2245.5 1690" fill="none" stroke="#000" stroke-width="2.9" stroke-linejoin="miter" stroke-linecap="butt"/>
<rect x="2210.25" y="1560.95" width="21.2" height="126.85" fill="none" stroke="#000" stroke-width="3.7"/>
<line x1="2220.85" y1="1560.95" x2="2220.85" y2="1687.8" stroke="#000" stroke-width="3.7" stroke-linecap="butt"/>
<path d="M2196.2 2123.75 Q2220.85 2128.75 2245.5 2123.75" fill="none" stroke="#000" stroke-width="2.9" stroke-linejoin="miter" stroke-linecap="butt"/>
<path d="M2196.2 2253 Q2220.85 2248 2245.5 2253" fill="none" stroke="#000" stroke-width="2.9" stroke-linejoin="miter" stroke-linecap="butt"/>
<rect x="2210.25" y="2125.95" width="21.2" height="124.85" fill="none" stroke="#000" stroke-width="3.7"/>
<line x1="2220.85" y1="2125.95" x2="2220.85" y2="2250.8" stroke="#000" stroke-width="3.7" stroke-linecap="butt"/>
<path d="M1194.5 1567.25 A33.25 33.25 0 0 1 1261 1567.25" fill="none" stroke="#000" stroke-width="3.4" stroke-linejoin="miter" stroke-linecap="butt"/>
<path d="M1261 2245.25 A33.25 33.25 0 0 1 1194.5 2245.25" fill="none" stroke="#000" stroke-width="3.4" stroke-linejoin="miter" stroke-linecap="butt"/>
<line x1="1194.5" y1="1567.25" x2="1194.5" y2="2245.25" stroke="#000" stroke-width="4.4" stroke-linecap="butt"/>
<line x1="1261" y1="1567.25" x2="1261" y2="2245.25" stroke="#000" stroke-width="4.4" stroke-linecap="butt"/>
<path d="M1311.4 1567.25 A33.25 33.25 0 0 1 1377.9 1567.25" fill="none" stroke="#000" stroke-width="3.4" stroke-linejoin="miter" stroke-linecap="butt"/>
<path d="M1377.9 2245.25 A33.25 33.25 0 0 1 1311.4 2245.25" fill="none" stroke="#000" stroke-width="3.4" stroke-linejoin="miter" stroke-linecap="butt"/>
<line x1="1311.4" y1="1567.25" x2="1311.4" y2="2245.25" stroke="#000" stroke-width="4.4" stroke-linecap="butt"/>
<line x1="1377.9" y1="1567.25" x2="1377.9" y2="2245.25" stroke="#000" stroke-width="4.4" stroke-linecap="butt"/>
<path d="M1428.3 1567.25 A33.25 33.25 0 0 1 1494.8 1567.25" fill="none" stroke="#000" stroke-width="3.4" stroke-linejoin="miter" stroke-linecap="butt"/>
<path d="M1494.8 2245.25 A33.25 33.25 0 0 1 1428.3 2245.25" fill="none" stroke="#000" stroke-width="3.4" stroke-linejoin="miter" stroke-linecap="butt"/>
<line x1="1428.3" y1="1567.25" x2="1428.3" y2="2245.25" stroke="#000" stroke-width="4.4" stroke-linecap="butt"/>
<line x1="1494.8" y1="1567.25" x2="1494.8" y2="2245.25" stroke="#000" stroke-width="4.4" stroke-linecap="butt"/>
<path d="M1545.2 1567.25 A33.25 33.25 0 0 1 1611.7 1567.25" fill="none" stroke="#000" stroke-width="3.4" stroke-linejoin="miter" stroke-linecap="butt"/>
<path d="M1611.7 2245.25 A33.25 33.25 0 0 1 1545.2 2245.25" fill="none" stroke="#000" stroke-width="3.4" stroke-linejoin="miter" stroke-linecap="butt"/>
<line x1="1545.2" y1="1567.25" x2="1545.2" y2="2245.25" stroke="#000" stroke-width="4.4" stroke-linecap="butt"/>
<line x1="1611.7" y1="1567.25" x2="1611.7" y2="2245.25" stroke="#000" stroke-width="4.4" stroke-linecap="butt"/>
<path d="M1662.1 1567.25 A33.25 33.25 0 0 1 1728.6 1567.25" fill="none" stroke="#000" stroke-width="3.4" stroke-linejoin="miter" stroke-linecap="butt"/>
<path d="M1728.6 2245.25 A33.25 33.25 0 0 1 1662.1 2245.25" fill="none" stroke="#000" stroke-width="3.4" stroke-linejoin="miter" stroke-linecap="butt"/>
<line x1="1662.1" y1="1567.25" x2="1662.1" y2="2245.25" stroke="#000" stroke-width="4.4" stroke-linecap="butt"/>
<line x1="1728.6" y1="1567.25" x2="1728.6" y2="2245.25" stroke="#000" stroke-width="4.4" stroke-linecap="butt"/>
<path d="M1779 1567.25 A33.25 33.25 0 0 1 1845.5 1567.25" fill="none" stroke="#000" stroke-width="3.4" stroke-linejoin="miter" stroke-linecap="butt"/>
<path d="M1845.5 2245.25 A33.25 33.25 0 0 1 1779 2245.25" fill="none" stroke="#000" stroke-width="3.4" stroke-linejoin="miter" stroke-linecap="butt"/>
<line x1="1779" y1="1567.25" x2="1779" y2="2245.25" stroke="#000" stroke-width="4.4" stroke-linecap="butt"/>
<line x1="1845.5" y1="1567.25" x2="1845.5" y2="2245.25" stroke="#000" stroke-width="4.4" stroke-linecap="butt"/>
<path d="M1895.9 1567.25 A33.25 33.25 0 0 1 1962.4 1567.25" fill="none" stroke="#000" stroke-width="3.4" stroke-linejoin="miter" stroke-linecap="butt"/>
<path d="M1962.4 2245.25 A33.25 33.25 0 0 1 1895.9 2245.25" fill="none" stroke="#000" stroke-width="3.4" stroke-linejoin="miter" stroke-linecap="butt"/>
<line x1="1895.9" y1="1567.25" x2="1895.9" y2="2245.25" stroke="#000" stroke-width="4.4" stroke-linecap="butt"/>
<line x1="1962.4" y1="1567.25" x2="1962.4" y2="2245.25" stroke="#000" stroke-width="4.4" stroke-linecap="butt"/>
<path d="M2012.8 1567.25 A33.25 33.25 0 0 1 2079.3 1567.25" fill="none" stroke="#000" stroke-width="3.4" stroke-linejoin="miter" stroke-linecap="butt"/>
<path d="M2079.3 2245.25 A33.25 33.25 0 0 1 2012.8 2245.25" fill="none" stroke="#000" stroke-width="3.4" stroke-linejoin="miter" stroke-linecap="butt"/>
<line x1="2012.8" y1="1567.25" x2="2012.8" y2="2245.25" stroke="#000" stroke-width="4.4" stroke-linecap="butt"/>
<line x1="2079.3" y1="1567.25" x2="2079.3" y2="2245.25" stroke="#000" stroke-width="4.4" stroke-linecap="butt"/>
<path d="M2129.7 1567.25 A33.25 33.25 0 0 1 2196.2 1567.25" fill="none" stroke="#000" stroke-width="3.4" stroke-linejoin="miter" stroke-linecap="butt"/>
<path d="M2196.2 2245.25 A33.25 33.25 0 0 1 2129.7 2245.25" fill="none" stroke="#000" stroke-width="3.4" stroke-linejoin="miter" stroke-linecap="butt"/>
<line x1="2129.7" y1="1567.25" x2="2129.7" y2="2245.25" stroke="#000" stroke-width="4.4" stroke-linecap="butt"/>
<line x1="2196.2" y1="1567.25" x2="2196.2" y2="2245.25" stroke="#000" stroke-width="4.4" stroke-linecap="butt"/>
<path d="M2245.5 1567.5 A33.5 33.5 0 0 1 2312.5 1567.5" fill="none" stroke="#000" stroke-width="3.4" stroke-linejoin="miter" stroke-linecap="butt"/>
<path d="M2312.5 2245 A33.5 33.5 0 0 1 2245.5 2245" fill="none" stroke="#000" stroke-width="3.4" stroke-linejoin="miter" stroke-linecap="butt"/>
<line x1="2245.5" y1="1567.5" x2="2245.5" y2="2245" stroke="#000" stroke-width="4.4" stroke-linecap="butt"/>
<line x1="2312.5" y1="1567.5" x2="2312.5" y2="2245" stroke="#000" stroke-width="4.4" stroke-linecap="butt"/>
<rect x="1171" y="1897.5" width="1176.5" height="19.25" fill="#fff"/>
<line x1="1171" y1="1895.5" x2="2347.5" y2="1895.5" stroke="#000" stroke-width="4.6" stroke-linecap="round"/>
<line x1="1171" y1="1918.75" x2="2347.5" y2="1918.75" stroke="#000" stroke-width="4.6" stroke-linecap="round"/>
<path d="M1194.5 1557.25 Q1186.62 1559.55 1178.75 1559.75 L1168.75 1559.75 L1168.75 1689 L1178.75 1689 Q1186.62 1689.2 1194.5 1691.5" fill="none" stroke="#000" stroke-width="3.7" stroke-linejoin="miter" stroke-linecap="butt"/>
<line x1="1178.75" y1="1559.75" x2="1178.75" y2="1689" stroke="#000" stroke-width="3.7" stroke-linecap="butt"/>
<rect x="1155" y="1569.25" width="13.75" height="108.75" fill="none" stroke="#000" stroke-width="3.9"/>
<rect x="1138.75" y="1582.5" width="16.25" height="82" fill="none" stroke="#000" stroke-width="3.9"/>
<path d="M2312.5 1557.25 Q2319.38 1559.55 2326.25 1559.75 L2337.5 1559.75 L2337.5 1689 L2326.25 1689 Q2319.38 1689.2 2312.5 1691.5" fill="none" stroke="#000" stroke-width="3.7" stroke-linejoin="miter" stroke-linecap="butt"/>
<line x1="2326.25" y1="1559.75" x2="2326.25" y2="1689" stroke="#000" stroke-width="3.7" stroke-linecap="butt"/>
<rect x="2337.5" y="1569.25" width="13.75" height="108.75" fill="none" stroke="#000" stroke-width="3.9"/>
<rect x="2351.25" y="1582.5" width="16.25" height="82" fill="none" stroke="#000" stroke-width="3.9"/>
<line x1="1138.75" y1="1620" x2="1155" y2="1620" stroke="#000" stroke-width="2.9" stroke-linecap="butt"/>
<line x1="1138.75" y1="1627" x2="1155" y2="1627" stroke="#000" stroke-width="2.9" stroke-linecap="butt"/>
<line x1="2351.25" y1="1620" x2="2367.5" y2="1620" stroke="#000" stroke-width="2.9" stroke-linecap="butt"/>
<line x1="2351.25" y1="1627" x2="2367.5" y2="1627" stroke="#000" stroke-width="2.9" stroke-linecap="butt"/>
<path d="M1194.5 2122.25 Q1186.62 2124.55 1178.75 2124.75 L1168.75 2124.75 L1168.75 2252 L1178.75 2252 Q1186.62 2252.2 1194.5 2254.5" fill="none" stroke="#000" stroke-width="3.7" stroke-linejoin="miter" stroke-linecap="butt"/>
<line x1="1178.75" y1="2124.75" x2="1178.75" y2="2252" stroke="#000" stroke-width="3.7" stroke-linecap="butt"/>
<rect x="1155" y="2134" width="13.75" height="110.5" fill="none" stroke="#000" stroke-width="3.9"/>
<rect x="1138.75" y="2147" width="16.25" height="82.5" fill="none" stroke="#000" stroke-width="3.9"/>
<path d="M2312.5 2122.25 Q2319.38 2124.55 2326.25 2124.75 L2337.5 2124.75 L2337.5 2252 L2326.25 2252 Q2319.38 2252.2 2312.5 2254.5" fill="none" stroke="#000" stroke-width="3.7" stroke-linejoin="miter" stroke-linecap="butt"/>
<line x1="2326.25" y1="2124.75" x2="2326.25" y2="2252" stroke="#000" stroke-width="3.7" stroke-linecap="butt"/>
<rect x="2337.5" y="2134" width="13.75" height="110.5" fill="none" stroke="#000" stroke-width="3.9"/>
<rect x="2351.25" y="2147" width="16.25" height="82.5" fill="none" stroke="#000" stroke-width="3.9"/>
<line x1="1138.75" y1="2188.25" x2="1155" y2="2188.25" stroke="#000" stroke-width="6" stroke-linecap="butt"/>
<line x1="2351.25" y1="2188.25" x2="2367.5" y2="2188.25" stroke="#000" stroke-width="6" stroke-linecap="butt"/>
<path d="M1139.5 2356.25 L1139.5 2390 L1733.3 2390" fill="none" stroke="#000" stroke-width="4.4" stroke-linejoin="miter" stroke-linecap="butt"/>
<path d="M1821.7 2390 L2367.7 2390 L2367.7 2356.7" fill="none" stroke="#000" stroke-width="4.4" stroke-linejoin="miter" stroke-linecap="butt"/>
<path d="M1771 2368.3 L1771 2405.5 L1790.7 2405.5" fill="none" stroke="#000" stroke-width="3.5" stroke-linejoin="miter" stroke-linecap="butt"/>
<path d="M2383.25 1624.5 L2419.4 1624.5 L2419.4 1861" fill="none" stroke="#000" stroke-width="4.4" stroke-linejoin="miter" stroke-linecap="butt"/>
<path d="M2419.4 1947 L2419.4 2189.3 L2383.3 2189.3" fill="none" stroke="#000" stroke-width="4.4" stroke-linejoin="miter" stroke-linecap="butt"/>
<path d="M2439.4 1893 L2426 1893 C2416 1893 2412.5 1900 2412.5 1905.5 C2412.5 1911 2415 1915 2418 1917" fill="none" stroke="#000" stroke-width="3" stroke-linejoin="miter" stroke-linecap="butt"/>
<line x1="2398.75" y1="1917" x2="2439.4" y2="1917" stroke="#555" stroke-width="3.2" stroke-linecap="round"/>
<rect x="2572.5" y="1520" width="90" height="931.25" fill="url(#wg)"/>
<rect x="2660" y="1638.75" width="62.5" height="55.75" fill="none" stroke="#000" stroke-width="4.4"/>
<path d="M2722.5 2229.5 L2660 2229.5 L2660 2285 L2722.5 2285 L2810 2265.5" fill="none" stroke="#000" stroke-width="4.4" stroke-linejoin="miter" stroke-linecap="butt"/>
<line x1="2774.5" y1="1519.5" x2="2846.75" y2="1519.5" stroke="#000" stroke-width="4.1" stroke-linecap="butt"/>
<line x1="2774.5" y1="2264.5" x2="2846.75" y2="2264.5" stroke="#000" stroke-width="4.1" stroke-linecap="butt"/>
<line x1="2722.5" y1="1571.5" x2="2722.5" y2="2212.5" stroke="#000" stroke-width="4.4" stroke-linecap="butt"/>
<line x1="2898.75" y1="1571.5" x2="2898.75" y2="2212.5" stroke="#000" stroke-width="4.4" stroke-linecap="butt"/>
<path d="M2846.75 1519.5 A52 52 0 0 1 2898.75 1571.5" fill="none" stroke="#000" stroke-width="3.5" stroke-linejoin="miter" stroke-linecap="butt"/>
<path d="M2898.75 2212.5 A52 52 0 0 1 2846.75 2264.5" fill="none" stroke="#000" stroke-width="3.5" stroke-linejoin="miter" stroke-linecap="butt"/>
<path d="M2774.5 2264.5 A52 52 0 0 1 2722.5 2212.5" fill="none" stroke="#000" stroke-width="3.5" stroke-linejoin="miter" stroke-linecap="butt"/>
<path d="M2722.5 1571.5 A52 52 0 0 1 2774.5 1519.5" fill="none" stroke="#000" stroke-width="3.5" stroke-linejoin="miter" stroke-linecap="butt"/>
<circle cx="2810.75" cy="1609.5" r="64" fill="none" stroke="#000" stroke-width="3.3"/>
<circle cx="2810.75" cy="1609.5" r="47" fill="none" stroke="#000" stroke-width="7"/>
<circle cx="2810.75" cy="1609.5" r="47" fill="none" stroke="#777" stroke-width="1.1" stroke-dasharray="5 3"/>
<circle cx="2810.75" cy="2175.6" r="64" fill="none" stroke="#000" stroke-width="3.3"/>
<circle cx="2810.75" cy="2175.6" r="47" fill="none" stroke="#000" stroke-width="7"/>
<circle cx="2810.75" cy="2175.6" r="47" fill="none" stroke="#777" stroke-width="1.1" stroke-dasharray="5 3"/>
<path d="M2788.75 1711.38 A21.88 21.88 0 0 1 2832.5 1711.38 L2832.5 2074.38 A21.88 21.88 0 0 1 2788.75 2074.38 Z" fill="none" stroke="#000" stroke-width="4.4" stroke-linejoin="miter" stroke-linecap="butt"/>
<rect x="2667.5" y="1883.25" width="282" height="19.25" fill="#fff"/>
<line x1="2667.5" y1="1881.25" x2="2949.5" y2="1881.25" stroke="#000" stroke-width="4.6" stroke-linecap="round"/>
<line x1="2667.5" y1="1904.5" x2="2949.5" y2="1904.5" stroke="#000" stroke-width="4.6" stroke-linecap="round"/>
<path d="M2777.5 2278 L2789.5 2267.5" fill="none" stroke="#000" stroke-width="3.2" stroke-linejoin="miter" stroke-linecap="butt"/>
<path d="M2831.75 2267.5 L2843.75 2278" fill="none" stroke="#000" stroke-width="3.2" stroke-linejoin="miter" stroke-linecap="butt"/>
<rect x="2777.5" y="2278" width="66.25" height="42" fill="none" stroke="#000" stroke-width="3.9"/>
<path d="M2660 2336.25 L2660 2371.25 L2811.25 2371.25 L2811.25 2336.25" fill="none" stroke="#000" stroke-width="4.4" stroke-linejoin="miter" stroke-linecap="butt"/>
<ellipse cx="2735.5" cy="2412" rx="14" ry="14.2" fill="none" stroke="#000" stroke-width="3.5"/>
<path d="M2749.5 2398.5 L2749.5 2428 C2749.5 2436 2743.5 2439 2735.5 2439 C2729.5 2439 2725.5 2436 2722.5 2433.5" fill="none" stroke="#000" stroke-width="3.5" stroke-linejoin="miter" stroke-linecap="butt"/>
<path d="M3158.25 1541.5 Q3186 1546.5 3213.75 1541.5" fill="none" stroke="#000" stroke-width="2.9" stroke-linejoin="miter" stroke-linecap="butt"/>
<path d="M3158.25 1680 Q3186 1675 3213.75 1680" fill="none" stroke="#000" stroke-width="2.9" stroke-linejoin="miter" stroke-linecap="butt"/>
<rect x="3174.5" y="1543.7" width="23" height="134.1" fill="none" stroke="#000" stroke-width="3.7"/>
<line x1="3186" y1="1543.7" x2="3186" y2="1677.8" stroke="#000" stroke-width="3.7" stroke-linecap="butt"/>
<path d="M3158.25 2130 Q3186 2135 3213.75 2130" fill="none" stroke="#000" stroke-width="2.9" stroke-linejoin="miter" stroke-linecap="butt"/>
<path d="M3158.25 2265 Q3186 2260 3213.75 2265" fill="none" stroke="#000" stroke-width="2.9" stroke-linejoin="miter" stroke-linecap="butt"/>
<rect x="3174.5" y="2132.2" width="23" height="130.6" fill="none" stroke="#000" stroke-width="3.7"/>
<line x1="3186" y1="2132.2" x2="3186" y2="2262.8" stroke="#000" stroke-width="3.7" stroke-linecap="butt"/>
<path d="M3280 1541.5 Q3306.5 1546.5 3333 1541.5" fill="none" stroke="#000" stroke-width="2.9" stroke-linejoin="miter" stroke-linecap="butt"/>
<path d="M3280 1680 Q3306.5 1675 3333 1680" fill="none" stroke="#000" stroke-width="2.9" stroke-linejoin="miter" stroke-linecap="butt"/>
<rect x="3295" y="1543.7" width="23" height="134.1" fill="none" stroke="#000" stroke-width="3.7"/>
<line x1="3306.5" y1="1543.7" x2="3306.5" y2="1677.8" stroke="#000" stroke-width="3.7" stroke-linecap="butt"/>
<path d="M3280 2130 Q3306.5 2135 3333 2130" fill="none" stroke="#000" stroke-width="2.9" stroke-linejoin="miter" stroke-linecap="butt"/>
<path d="M3280 2265 Q3306.5 2260 3333 2265" fill="none" stroke="#000" stroke-width="2.9" stroke-linejoin="miter" stroke-linecap="butt"/>
<rect x="3295" y="2132.2" width="23" height="130.6" fill="none" stroke="#000" stroke-width="3.7"/>
<line x1="3306.5" y1="2132.2" x2="3306.5" y2="2262.8" stroke="#000" stroke-width="3.7" stroke-linecap="butt"/>
<path d="M3402.5 1541.5 Q3428.38 1546.5 3454.25 1541.5" fill="none" stroke="#000" stroke-width="2.9" stroke-linejoin="miter" stroke-linecap="butt"/>
<path d="M3402.5 1680 Q3428.38 1675 3454.25 1680" fill="none" stroke="#000" stroke-width="2.9" stroke-linejoin="miter" stroke-linecap="butt"/>
<rect x="3416.88" y="1543.7" width="23" height="134.1" fill="none" stroke="#000" stroke-width="3.7"/>
<line x1="3428.38" y1="1543.7" x2="3428.38" y2="1677.8" stroke="#000" stroke-width="3.7" stroke-linecap="butt"/>
<path d="M3402.5 2130 Q3428.38 2135 3454.25 2130" fill="none" stroke="#000" stroke-width="2.9" stroke-linejoin="miter" stroke-linecap="butt"/>
<path d="M3402.5 2265 Q3428.38 2260 3454.25 2265" fill="none" stroke="#000" stroke-width="2.9" stroke-linejoin="miter" stroke-linecap="butt"/>
<rect x="3416.88" y="2132.2" width="23" height="130.6" fill="none" stroke="#000" stroke-width="3.7"/>
<line x1="3428.38" y1="2132.2" x2="3428.38" y2="2262.8" stroke="#000" stroke-width="3.7" stroke-linecap="butt"/>
<path d="M3522.5 1541.5 Q3550 1546.5 3577.5 1541.5" fill="none" stroke="#000" stroke-width="2.9" stroke-linejoin="miter" stroke-linecap="butt"/>
<path d="M3522.5 1680 Q3550 1675 3577.5 1680" fill="none" stroke="#000" stroke-width="2.9" stroke-linejoin="miter" stroke-linecap="butt"/>
<rect x="3538.5" y="1543.7" width="23" height="134.1" fill="none" stroke="#000" stroke-width="3.7"/>
<line x1="3550" y1="1543.7" x2="3550" y2="1677.8" stroke="#000" stroke-width="3.7" stroke-linecap="butt"/>
<path d="M3522.5 2130 Q3550 2135 3577.5 2130" fill="none" stroke="#000" stroke-width="2.9" stroke-linejoin="miter" stroke-linecap="butt"/>
<path d="M3522.5 2265 Q3550 2260 3577.5 2265" fill="none" stroke="#000" stroke-width="2.9" stroke-linejoin="miter" stroke-linecap="butt"/>
<rect x="3538.5" y="2132.2" width="23" height="130.6" fill="none" stroke="#000" stroke-width="3.7"/>
<line x1="3550" y1="2132.2" x2="3550" y2="2262.8" stroke="#000" stroke-width="3.7" stroke-linecap="butt"/>
<path d="M3644.25 1541.5 Q3670.88 1546.5 3697.5 1541.5" fill="none" stroke="#000" stroke-width="2.9" stroke-linejoin="miter" stroke-linecap="butt"/>
<path d="M3644.25 1680 Q3670.88 1675 3697.5 1680" fill="none" stroke="#000" stroke-width="2.9" stroke-linejoin="miter" stroke-linecap="butt"/>
<rect x="3659.38" y="1543.7" width="23" height="134.1" fill="none" stroke="#000" stroke-width="3.7"/>
<line x1="3670.88" y1="1543.7" x2="3670.88" y2="1677.8" stroke="#000" stroke-width="3.7" stroke-linecap="butt"/>
<path d="M3644.25 2130 Q3670.88 2135 3697.5 2130" fill="none" stroke="#000" stroke-width="2.9" stroke-linejoin="miter" stroke-linecap="butt"/>
<path d="M3644.25 2265 Q3670.88 2260 3697.5 2265" fill="none" stroke="#000" stroke-width="2.9" stroke-linejoin="miter" stroke-linecap="butt"/>
<rect x="3659.38" y="2132.2" width="23" height="130.6" fill="none" stroke="#000" stroke-width="3.7"/>
<line x1="3670.88" y1="2132.2" x2="3670.88" y2="2262.8" stroke="#000" stroke-width="3.7" stroke-linecap="butt"/>
<path d="M3767.8 1541.5 Q3793.05 1546.5 3818.3 1541.5" fill="none" stroke="#000" stroke-width="2.9" stroke-linejoin="miter" stroke-linecap="butt"/>
<path d="M3767.8 1680 Q3793.05 1675 3818.3 1680" fill="none" stroke="#000" stroke-width="2.9" stroke-linejoin="miter" stroke-linecap="butt"/>
<rect x="3781.55" y="1543.7" width="23" height="134.1" fill="none" stroke="#000" stroke-width="3.7"/>
<line x1="3793.05" y1="1543.7" x2="3793.05" y2="1677.8" stroke="#000" stroke-width="3.7" stroke-linecap="butt"/>
<path d="M3767.8 2130 Q3793.05 2135 3818.3 2130" fill="none" stroke="#000" stroke-width="2.9" stroke-linejoin="miter" stroke-linecap="butt"/>
<path d="M3767.8 2265 Q3793.05 2260 3818.3 2265" fill="none" stroke="#000" stroke-width="2.9" stroke-linejoin="miter" stroke-linecap="butt"/>
<rect x="3781.55" y="2132.2" width="23" height="130.6" fill="none" stroke="#000" stroke-width="3.7"/>
<line x1="3793.05" y1="2132.2" x2="3793.05" y2="2262.8" stroke="#000" stroke-width="3.7" stroke-linecap="butt"/>
<path d="M3887.7 1541.5 Q3914.05 1546.5 3940.4 1541.5" fill="none" stroke="#000" stroke-width="2.9" stroke-linejoin="miter" stroke-linecap="butt"/>
<path d="M3887.7 1680 Q3914.05 1675 3940.4 1680" fill="none" stroke="#000" stroke-width="2.9" stroke-linejoin="miter" stroke-linecap="butt"/>
<rect x="3902.55" y="1543.7" width="23" height="134.1" fill="none" stroke="#000" stroke-width="3.7"/>
<line x1="3914.05" y1="1543.7" x2="3914.05" y2="1677.8" stroke="#000" stroke-width="3.7" stroke-linecap="butt"/>
<path d="M3887.7 2130 Q3914.05 2135 3940.4 2130" fill="none" stroke="#000" stroke-width="2.9" stroke-linejoin="miter" stroke-linecap="butt"/>
<path d="M3887.7 2265 Q3914.05 2260 3940.4 2265" fill="none" stroke="#000" stroke-width="2.9" stroke-linejoin="miter" stroke-linecap="butt"/>
<rect x="3902.55" y="2132.2" width="23" height="130.6" fill="none" stroke="#000" stroke-width="3.7"/>
<line x1="3914.05" y1="2132.2" x2="3914.05" y2="2262.8" stroke="#000" stroke-width="3.7" stroke-linecap="butt"/>
<path d="M4009.1 1541.5 Q4035.5 1546.5 4061.9 1541.5" fill="none" stroke="#000" stroke-width="2.9" stroke-linejoin="miter" stroke-linecap="butt"/>
<path d="M4009.1 1680 Q4035.5 1675 4061.9 1680" fill="none" stroke="#000" stroke-width="2.9" stroke-linejoin="miter" stroke-linecap="butt"/>
<rect x="4024" y="1543.7" width="23" height="134.1" fill="none" stroke="#000" stroke-width="3.7"/>
<line x1="4035.5" y1="1543.7" x2="4035.5" y2="1677.8" stroke="#000" stroke-width="3.7" stroke-linecap="butt"/>
<path d="M4009.1 2130 Q4035.5 2135 4061.9 2130" fill="none" stroke="#000" stroke-width="2.9" stroke-linejoin="miter" stroke-linecap="butt"/>
<path d="M4009.1 2265 Q4035.5 2260 4061.9 2265" fill="none" stroke="#000" stroke-width="2.9" stroke-linejoin="miter" stroke-linecap="butt"/>
<rect x="4024" y="2132.2" width="23" height="130.6" fill="none" stroke="#000" stroke-width="3.7"/>
<line x1="4035.5" y1="2132.2" x2="4035.5" y2="2262.8" stroke="#000" stroke-width="3.7" stroke-linecap="butt"/>
<path d="M4132.2 1541.5 Q4169.4 1546.5 4206.6 1541.5" fill="none" stroke="#000" stroke-width="2.9" stroke-linejoin="miter" stroke-linecap="butt"/>
<path d="M4132.2 1680 Q4169.4 1675 4206.6 1680" fill="none" stroke="#000" stroke-width="2.9" stroke-linejoin="miter" stroke-linecap="butt"/>
<rect x="4148.2" y="1543.7" width="42.1" height="134.1" fill="none" stroke="#000" stroke-width="3.7"/>
<line x1="4158.4" y1="1543.7" x2="4158.4" y2="1677.8" stroke="#000" stroke-width="3.7" stroke-linecap="butt"/>
<line x1="4180.1" y1="1543.7" x2="4180.1" y2="1677.8" stroke="#000" stroke-width="3.7" stroke-linecap="butt"/>
<path d="M4132.2 2130 Q4169.4 2135 4206.6 2130" fill="none" stroke="#000" stroke-width="2.9" stroke-linejoin="miter" stroke-linecap="butt"/>
<path d="M4132.2 2265 Q4169.4 2260 4206.6 2265" fill="none" stroke="#000" stroke-width="2.9" stroke-linejoin="miter" stroke-linecap="butt"/>
<rect x="4148.2" y="2132.2" width="42.1" height="130.6" fill="none" stroke="#000" stroke-width="3.7"/>
<line x1="4158.4" y1="2132.2" x2="4158.4" y2="2262.8" stroke="#000" stroke-width="3.7" stroke-linecap="butt"/>
<line x1="4180.1" y1="2132.2" x2="4180.1" y2="2262.8" stroke="#000" stroke-width="3.7" stroke-linecap="butt"/>
<path d="M3089.25 1552 A34.5 34.5 0 0 1 3158.25 1552" fill="none" stroke="#000" stroke-width="3.4" stroke-linejoin="miter" stroke-linecap="butt"/>
<path d="M3158.25 2255 A34.5 34.5 0 0 1 3089.25 2255" fill="none" stroke="#000" stroke-width="3.4" stroke-linejoin="miter" stroke-linecap="butt"/>
<line x1="3089.25" y1="1552" x2="3089.25" y2="2255" stroke="#000" stroke-width="4.4" stroke-linecap="butt"/>
<line x1="3158.25" y1="1552" x2="3158.25" y2="2255" stroke="#000" stroke-width="4.4" stroke-linecap="butt"/>
<path d="M3213.75 1550.62 A33.12 33.12 0 0 1 3280 1550.62" fill="none" stroke="#000" stroke-width="3.4" stroke-linejoin="miter" stroke-linecap="butt"/>
<path d="M3280 2256.38 A33.12 33.12 0 0 1 3213.75 2256.38" fill="none" stroke="#000" stroke-width="3.4" stroke-linejoin="miter" stroke-linecap="butt"/>
<line x1="3213.75" y1="1550.62" x2="3213.75" y2="2256.38" stroke="#000" stroke-width="4.4" stroke-linecap="butt"/>
<line x1="3280" y1="1550.62" x2="3280" y2="2256.38" stroke="#000" stroke-width="4.4" stroke-linecap="butt"/>
<path d="M3333 1552.25 A34.75 34.75 0 0 1 3402.5 1552.25" fill="none" stroke="#000" stroke-width="3.4" stroke-linejoin="miter" stroke-linecap="butt"/>
<path d="M3402.5 2254.75 A34.75 34.75 0 0 1 3333 2254.75" fill="none" stroke="#000" stroke-width="3.4" stroke-linejoin="miter" stroke-linecap="butt"/>
<line x1="3333" y1="1552.25" x2="3333" y2="2254.75" stroke="#000" stroke-width="4.4" stroke-linecap="butt"/>
<line x1="3402.5" y1="1552.25" x2="3402.5" y2="2254.75" stroke="#000" stroke-width="4.4" stroke-linecap="butt"/>
<path d="M3454.25 1551.62 A34.12 34.12 0 0 1 3522.5 1551.62" fill="none" stroke="#000" stroke-width="3.4" stroke-linejoin="miter" stroke-linecap="butt"/>
<path d="M3522.5 2255.38 A34.12 34.12 0 0 1 3454.25 2255.38" fill="none" stroke="#000" stroke-width="3.4" stroke-linejoin="miter" stroke-linecap="butt"/>
<line x1="3454.25" y1="1551.62" x2="3454.25" y2="2255.38" stroke="#000" stroke-width="4.4" stroke-linecap="butt"/>
<line x1="3522.5" y1="1551.62" x2="3522.5" y2="2255.38" stroke="#000" stroke-width="4.4" stroke-linecap="butt"/>
<path d="M3577.5 1550.88 A33.38 33.38 0 0 1 3644.25 1550.88" fill="none" stroke="#000" stroke-width="3.4" stroke-linejoin="miter" stroke-linecap="butt"/>
<path d="M3644.25 2256.12 A33.38 33.38 0 0 1 3577.5 2256.12" fill="none" stroke="#000" stroke-width="3.4" stroke-linejoin="miter" stroke-linecap="butt"/>
<line x1="3577.5" y1="1550.88" x2="3577.5" y2="2256.12" stroke="#000" stroke-width="4.4" stroke-linecap="butt"/>
<line x1="3644.25" y1="1550.88" x2="3644.25" y2="2256.12" stroke="#000" stroke-width="4.4" stroke-linecap="butt"/>
<path d="M3697.5 1552.65 A35.15 35.15 0 0 1 3767.8 1552.65" fill="none" stroke="#000" stroke-width="3.4" stroke-linejoin="miter" stroke-linecap="butt"/>
<path d="M3767.8 2254.35 A35.15 35.15 0 0 1 3697.5 2254.35" fill="none" stroke="#000" stroke-width="3.4" stroke-linejoin="miter" stroke-linecap="butt"/>
<line x1="3697.5" y1="1552.65" x2="3697.5" y2="2254.35" stroke="#000" stroke-width="4.4" stroke-linecap="butt"/>
<line x1="3767.8" y1="1552.65" x2="3767.8" y2="2254.35" stroke="#000" stroke-width="4.4" stroke-linecap="butt"/>
<path d="M3818.3 1552.2 A34.7 34.7 0 0 1 3887.7 1552.2" fill="none" stroke="#000" stroke-width="3.4" stroke-linejoin="miter" stroke-linecap="butt"/>
<path d="M3887.7 2254.8 A34.7 34.7 0 0 1 3818.3 2254.8" fill="none" stroke="#000" stroke-width="3.4" stroke-linejoin="miter" stroke-linecap="butt"/>
<line x1="3818.3" y1="1552.2" x2="3818.3" y2="2254.8" stroke="#000" stroke-width="4.4" stroke-linecap="butt"/>
<line x1="3887.7" y1="1552.2" x2="3887.7" y2="2254.8" stroke="#000" stroke-width="4.4" stroke-linecap="butt"/>
<path d="M3940.4 1551.85 A34.35 34.35 0 0 1 4009.1 1551.85" fill="none" stroke="#000" stroke-width="3.4" stroke-linejoin="miter" stroke-linecap="butt"/>
<path d="M4009.1 2255.15 A34.35 34.35 0 0 1 3940.4 2255.15" fill="none" stroke="#000" stroke-width="3.4" stroke-linejoin="miter" stroke-linecap="butt"/>
<line x1="3940.4" y1="1551.85" x2="3940.4" y2="2255.15" stroke="#000" stroke-width="4.4" stroke-linecap="butt"/>
<line x1="4009.1" y1="1551.85" x2="4009.1" y2="2255.15" stroke="#000" stroke-width="4.4" stroke-linecap="butt"/>
<path d="M4061.9 1552.65 A35.15 35.15 0 0 1 4132.2 1552.65" fill="none" stroke="#000" stroke-width="3.4" stroke-linejoin="miter" stroke-linecap="butt"/>
<path d="M4132.2 2254.35 A35.15 35.15 0 0 1 4061.9 2254.35" fill="none" stroke="#000" stroke-width="3.4" stroke-linejoin="miter" stroke-linecap="butt"/>
<line x1="4061.9" y1="1552.65" x2="4061.9" y2="2254.35" stroke="#000" stroke-width="4.4" stroke-linecap="butt"/>
<line x1="4132.2" y1="1552.65" x2="4132.2" y2="2254.35" stroke="#000" stroke-width="4.4" stroke-linecap="butt"/>
<path d="M4206.6 1551.95 A34.45 34.45 0 0 1 4275.5 1551.95" fill="none" stroke="#000" stroke-width="3.4" stroke-linejoin="miter" stroke-linecap="butt"/>
<path d="M4275.5 2255.05 A34.45 34.45 0 0 1 4206.6 2255.05" fill="none" stroke="#000" stroke-width="3.4" stroke-linejoin="miter" stroke-linecap="butt"/>
<line x1="4206.6" y1="1551.95" x2="4206.6" y2="2255.05" stroke="#000" stroke-width="4.4" stroke-linecap="butt"/>
<line x1="4275.5" y1="1551.95" x2="4275.5" y2="2255.05" stroke="#000" stroke-width="4.4" stroke-linecap="butt"/>
<rect x="3052.5" y="1894.5" width="1258.5" height="19" fill="#fff"/>
<line x1="3052.5" y1="1892.5" x2="4311" y2="1892.5" stroke="#000" stroke-width="4.6" stroke-linecap="round"/>
<line x1="3052.5" y1="1915.5" x2="4311" y2="1915.5" stroke="#000" stroke-width="4.6" stroke-linecap="round"/>
<path d="M3089.25 1542.25 Q3082.38 1544.55 3075.5 1544.75 L3062.5 1544.75 L3062.5 1677.75 L3075.5 1677.75 Q3082.38 1677.95 3089.25 1680.25" fill="none" stroke="#000" stroke-width="3.7" stroke-linejoin="miter" stroke-linecap="butt"/>
<line x1="3075.5" y1="1544.75" x2="3075.5" y2="1677.75" stroke="#000" stroke-width="3.7" stroke-linecap="butt"/>
<rect x="3049.5" y="1550.75" width="13" height="116.25" fill="none" stroke="#000" stroke-width="3.9"/>
<rect x="3031.25" y="1567" width="18.25" height="83.75" fill="none" stroke="#000" stroke-width="3.9"/>
<line x1="3031.25" y1="1606.38" x2="3049.5" y2="1606.38" stroke="#000" stroke-width="2.9" stroke-linecap="butt"/>
<line x1="3031.25" y1="1611.38" x2="3049.5" y2="1611.38" stroke="#000" stroke-width="2.9" stroke-linecap="butt"/>
<path d="M4275.5 1542.25 Q4282.9 1544.55 4290.3 1544.75 L4300.8 1544.75 L4300.8 1677.75 L4290.3 1677.75 Q4282.9 1677.95 4275.5 1680.25" fill="none" stroke="#000" stroke-width="3.7" stroke-linejoin="miter" stroke-linecap="butt"/>
<line x1="4290.3" y1="1544.75" x2="4290.3" y2="1677.75" stroke="#000" stroke-width="3.7" stroke-linecap="butt"/>
<path d="M3089.25 2128.5 Q3082.38 2130.8 3075.5 2131 L3062.5 2131 L3062.5 2264 L3075.5 2264 Q3082.38 2264.2 3089.25 2266.5" fill="none" stroke="#000" stroke-width="3.7" stroke-linejoin="miter" stroke-linecap="butt"/>
<line x1="3075.5" y1="2131" x2="3075.5" y2="2264" stroke="#000" stroke-width="3.7" stroke-linecap="butt"/>
<rect x="3049.5" y="2139.4" width="13" height="117.5" fill="none" stroke="#000" stroke-width="3.9"/>
<rect x="3031.25" y="2154.8" width="18.25" height="82.2" fill="none" stroke="#000" stroke-width="3.9"/>
<line x1="3031.25" y1="2195.9" x2="3049.5" y2="2195.9" stroke="#000" stroke-width="6" stroke-linecap="butt"/>
<path d="M4275.5 2128.5 Q4282.9 2130.8 4290.3 2131 L4300.8 2131 L4300.8 2264 L4290.3 2264 Q4282.9 2264.2 4275.5 2266.5" fill="none" stroke="#000" stroke-width="3.7" stroke-linejoin="miter" stroke-linecap="butt"/>
<line x1="4290.3" y1="2131" x2="4290.3" y2="2264" stroke="#000" stroke-width="3.7" stroke-linecap="butt"/>
<rect x="4300.8" y="1552.8" width="13.9" height="114.4" fill="none" stroke="#000" stroke-width="3.9"/>
<rect x="4314.7" y="1567" width="15.6" height="86" fill="none" stroke="#000" stroke-width="3.9"/>
<rect x="4330.3" y="1565.4" width="15.8" height="89.2" fill="#000"/>
<rect x="4332.6" y="1573.8" width="9.9" height="74.5" fill="#fff"/>
<line x1="4300.8" y1="1604.25" x2="4330.3" y2="1604.25" stroke="#000" stroke-width="3.2" stroke-linecap="butt"/>
<line x1="4300.8" y1="1613.7" x2="4330.3" y2="1613.7" stroke="#000" stroke-width="3.2" stroke-linecap="butt"/>
<rect x="4345.5" y="1585.3" width="10.5" height="52.1" fill="none" stroke="#000" stroke-width="3.9"/>
<line x1="4356" y1="1590" x2="4369" y2="1590" stroke="#000" stroke-width="3.2" stroke-linecap="butt"/>
<rect x="4356" y="1597" width="12.8" height="25" fill="#000"/>
<rect x="4357" y="1608.2" width="11.8" height="3.6" fill="#fff"/>
<line x1="4356" y1="1629.3" x2="4369" y2="1629.3" stroke="#000" stroke-width="3.2" stroke-linecap="butt"/>
<line x1="4383" y1="1603" x2="4383" y2="1617" stroke="#000" stroke-width="3.4" stroke-linecap="butt"/>
<path d="M4288.6 1587.5 Q4300 1609 4288.6 1631 Q4293.5 1609 4288.6 1587.5 Z" fill="#000" stroke="#000" stroke-width="1.5"/>
<rect x="4301.2" y="2139.4" width="13.7" height="117.5" fill="none" stroke="#000" stroke-width="3.9"/>
<rect x="4314.9" y="2154.8" width="18.8" height="85.7" fill="none" stroke="#000" stroke-width="3.9"/>
<line x1="4314.9" y1="2197.6" x2="4333.7" y2="2197.6" stroke="#000" stroke-width="6" stroke-linecap="butt"/>
<path d="M4062 2298 L4075 2284.3" fill="none" stroke="#000" stroke-width="3.2" stroke-linejoin="miter" stroke-linecap="butt"/>
<path d="M4120.3 2284.3 L4133.3 2298" fill="none" stroke="#000" stroke-width="3.2" stroke-linejoin="miter" stroke-linecap="butt"/>
<rect x="4062" y="2298" width="71.3" height="43.5" fill="none" stroke="#000" stroke-width="3.9"/>
<line x1="4062" y1="2341.5" x2="4133.3" y2="2341.5" stroke="#000" stroke-width="5.5" stroke-linecap="butt"/>
<path d="M4206 2298 L4219 2284.3" fill="none" stroke="#000" stroke-width="3.2" stroke-linejoin="miter" stroke-linecap="butt"/>
<path d="M4263.5 2284.3 L4276.5 2298" fill="none" stroke="#000" stroke-width="3.2" stroke-linejoin="miter" stroke-linecap="butt"/>
<rect x="4206" y="2298" width="70.5" height="43.5" fill="none" stroke="#000" stroke-width="3.9"/>
<line x1="4206" y1="2341.5" x2="4276.5" y2="2341.5" stroke="#000" stroke-width="5.5" stroke-linecap="butt"/>
<path d="M4096.3 2374 L4096.3 2409 L4241.2 2409 L4241.2 2374" fill="none" stroke="#000" stroke-width="4.4" stroke-linejoin="miter" stroke-linecap="butt"/>
<text x="0" y="0" font-size="42" fill="#000" textLength="192.39" lengthAdjust="spacing" stroke="#fff" stroke-width="0.45" transform="translate(4081 2464.9) scale(0.92 1)">hV-50mm</text>
<path d="M3031.7 2517.4 L3031.7 2552.9 L3650 2552.9" fill="none" stroke="#000" stroke-width="4.4" stroke-linejoin="miter" stroke-linecap="butt"/>
<path d="M3743.5 2552.9 L4337.2 2552.9 L4337.2 2517.3" fill="none" stroke="#000" stroke-width="4.4" stroke-linejoin="miter" stroke-linecap="butt"/>
<path d="M3690 2528.2 L3690 2569 L3711.3 2569" fill="none" stroke="#000" stroke-width="3.5" stroke-linejoin="miter" stroke-linecap="butt"/>
</g></svg>
</body></html>
